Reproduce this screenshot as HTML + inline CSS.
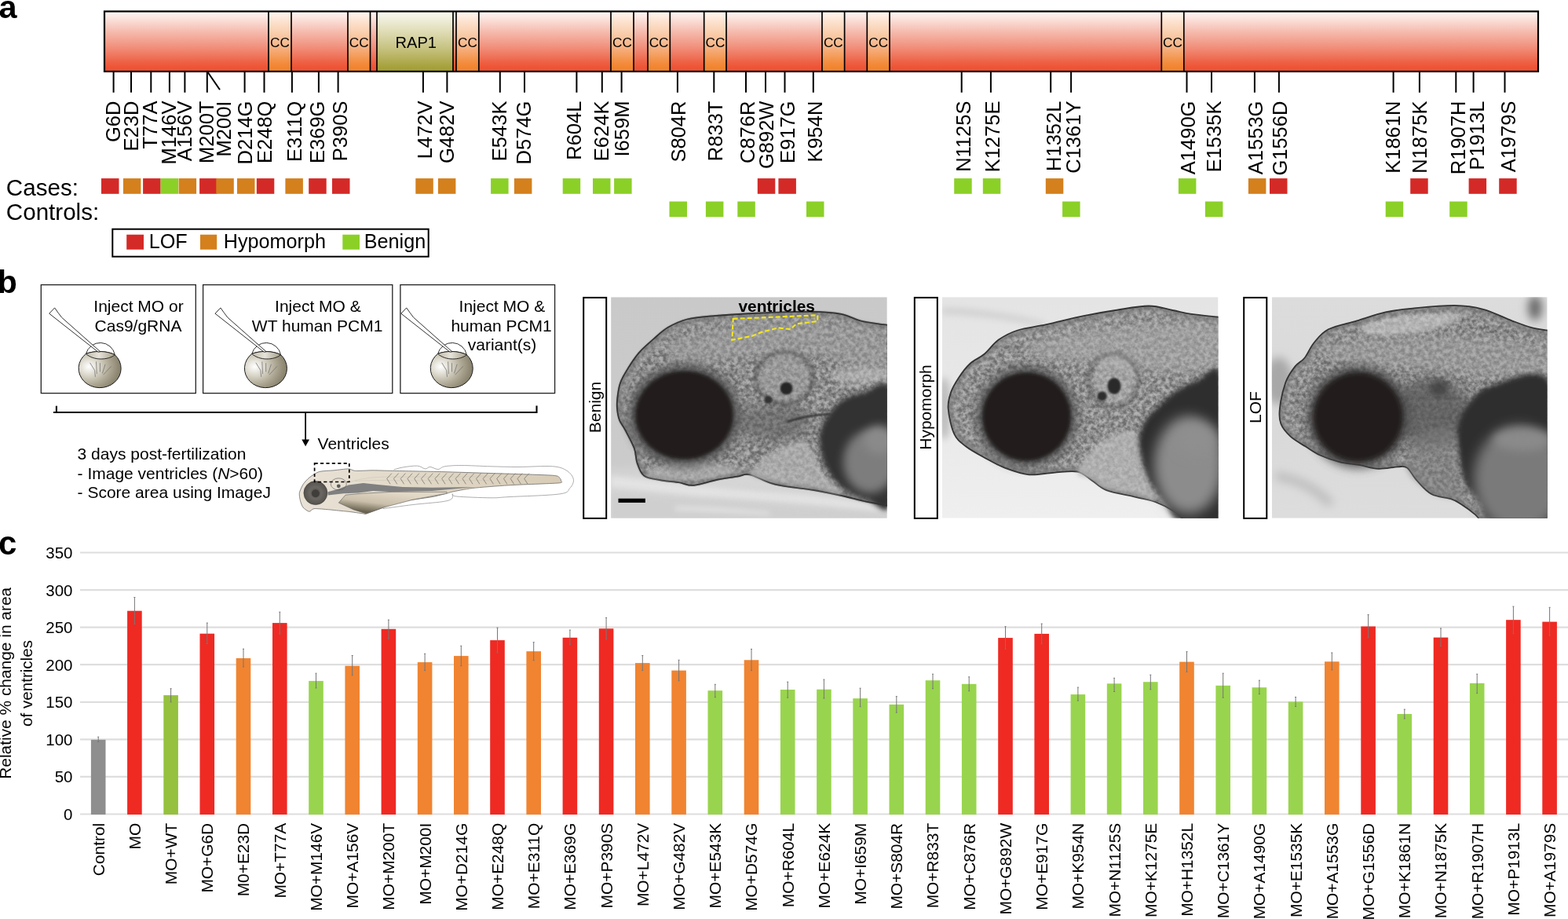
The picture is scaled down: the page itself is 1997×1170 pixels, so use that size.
<!DOCTYPE html>
<html><head><meta charset="utf-8"><title>PCM1 variants figure</title>
<style>html,body{margin:0;padding:0;background:#fff;width:1997px;height:1170px;overflow:hidden}svg{display:block}</style>
</head><body>
<svg width="1997" height="1170" viewBox="0 0 1997 1170" font-family='"Liberation Sans", Arial, Helvetica, sans-serif' fill="#000"><defs>
<linearGradient id="gR" x1="0" y1="0" x2="0" y2="1">
 <stop offset="0" stop-color="#fef8f6"/><stop offset="0.12" stop-color="#fbe3dd"/><stop offset="0.35" stop-color="#f5b9ab"/>
 <stop offset="0.6" stop-color="#f18f7b"/><stop offset="0.85" stop-color="#ee6043"/><stop offset="0.93" stop-color="#ee5435"/><stop offset="1" stop-color="#ee5232"/></linearGradient>
<linearGradient id="gC" x1="0" y1="0" x2="0" y2="1">
 <stop offset="0" stop-color="#fef9f4"/><stop offset="0.12" stop-color="#fde8d8"/><stop offset="0.35" stop-color="#f9cfae"/>
 <stop offset="0.6" stop-color="#f6b283"/><stop offset="0.85" stop-color="#f38d3f"/><stop offset="0.93" stop-color="#f28530"/><stop offset="1" stop-color="#f2832c"/></linearGradient>
<linearGradient id="gP" x1="0" y1="0" x2="0" y2="1">
 <stop offset="0" stop-color="#fbfbf4"/><stop offset="0.12" stop-color="#f0efdc"/><stop offset="0.35" stop-color="#dedbb3"/>
 <stop offset="0.6" stop-color="#c8c484"/><stop offset="0.85" stop-color="#aea94c"/><stop offset="0.93" stop-color="#a6a13a"/><stop offset="1" stop-color="#a39e33"/></linearGradient>

<radialGradient id="gEgg" cx="0.24" cy="0.42" r="0.85" fx="0.24" fy="0.42">
 <stop offset="0" stop-color="#ffffff"/><stop offset="0.3" stop-color="#d8d4c7"/><stop offset="0.6" stop-color="#aba591"/><stop offset="0.85" stop-color="#8a846f"/><stop offset="1" stop-color="#938d79"/></radialGradient>
<linearGradient id="gCap" x1="0" y1="0" x2="1" y2="0">
 <stop offset="0" stop-color="#c2bca9"/><stop offset="0.45" stop-color="#e6e3da"/><stop offset="1" stop-color="#a49d86"/></linearGradient>
<linearGradient id="gYolk" x1="0.15" y1="0.85" x2="0.6" y2="0.1">
 <stop offset="0" stop-color="#6a624f"/><stop offset="0.45" stop-color="#c9bfaa"/><stop offset="1" stop-color="#e2d8c6"/></linearGradient>
<linearGradient id="gBody" x1="0" y1="0" x2="1" y2="0">
 <stop offset="0" stop-color="#e9e2d6"/><stop offset="0.4" stop-color="#e2d9c9"/><stop offset="1" stop-color="#d8ccb6"/></linearGradient>
<radialGradient id="gEye" cx="0.5" cy="0.5" r="0.5">
 <stop offset="0" stop-color="#4a4844"/><stop offset="0.5" stop-color="#6b6863"/><stop offset="1" stop-color="#55524d"/></radialGradient>
<filter id="bl1" x="-20%" y="-20%" width="140%" height="140%"><feGaussianBlur stdDeviation="1"/></filter>
<filter id="bl2" x="-20%" y="-20%" width="140%" height="140%"><feGaussianBlur stdDeviation="2"/></filter>
<filter id="bl3" x="-20%" y="-20%" width="140%" height="140%"><feGaussianBlur stdDeviation="3"/></filter>
<filter id="bl4" x="-30%" y="-30%" width="160%" height="160%"><feGaussianBlur stdDeviation="4"/></filter>
<filter id="bl6" x="-30%" y="-30%" width="160%" height="160%"><feGaussianBlur stdDeviation="6"/></filter>
<filter id="bl05" x="-5%" y="-5%" width="110%" height="110%"><feGaussianBlur stdDeviation="0.6"/></filter>
<filter id="bl8" x="-40%" y="-40%" width="180%" height="180%"><feGaussianBlur stdDeviation="8"/></filter>
<filter id="tex" x="0" y="0" width="100%" height="100%" color-interpolation-filters="sRGB"><feTurbulence type="fractalNoise" baseFrequency="0.2" numOctaves="3" seed="7" result="n"/>
 <feColorMatrix in="n" type="matrix" values="2.2 0 0 0 -0.6  2.2 0 0 0 -0.6  2.2 0 0 0 -0.6  0 0 0 0 0.5" result="m"/><feComposite in="m" in2="SourceAlpha" operator="in"/></filter>
<linearGradient id="bgB" x1="0" y1="0" x2="0" y2="1"><stop offset="0" stop-color="#c9c9c9"/><stop offset="0.75" stop-color="#cbcbcb"/><stop offset="0.82" stop-color="#d6d6d6"/><stop offset="1" stop-color="#d2d2d2"/></linearGradient>
<linearGradient id="bgH" x1="0" y1="0" x2="0" y2="1"><stop offset="0" stop-color="#e4e4e4"/><stop offset="0.5" stop-color="#e8e8e8"/><stop offset="1" stop-color="#efefef"/></linearGradient>
<linearGradient id="bgL" x1="0" y1="0" x2="0" y2="1"><stop offset="0" stop-color="#dcdcdc"/><stop offset="0.6" stop-color="#d9d9d9"/><stop offset="1" stop-color="#dddddd"/></linearGradient>
<filter id="noise" x="0" y="0" width="100%" height="100%"><feTurbulence type="fractalNoise" baseFrequency="0.35" numOctaves="2" seed="3"/><feColorMatrix type="saturate" values="0"/></filter>
</defs><text x="-1.6" y="22.6" font-size="41.5" font-weight="bold">a</text>
<rect x="133" y="14.5" width="209.00" height="76.50" fill="url(#gR)"/>
<rect x="342" y="14.5" width="29.00" height="76.50" fill="url(#gC)"/>
<rect x="371" y="14.5" width="72.00" height="76.50" fill="url(#gR)"/>
<rect x="443" y="14.5" width="28.50" height="76.50" fill="url(#gC)"/>
<rect x="471.5" y="14.5" width="8.50" height="76.50" fill="url(#gR)"/>
<rect x="480" y="14.5" width="97.00" height="76.50" fill="url(#gP)"/>
<rect x="577" y="14.5" width="4.00" height="76.50" fill="url(#gR)"/>
<rect x="581" y="14.5" width="28.80" height="76.50" fill="url(#gC)"/>
<rect x="609.8" y="14.5" width="168.20" height="76.50" fill="url(#gR)"/>
<rect x="778" y="14.5" width="29.00" height="76.50" fill="url(#gC)"/>
<rect x="807" y="14.5" width="18.00" height="76.50" fill="url(#gR)"/>
<rect x="825" y="14.5" width="28.30" height="76.50" fill="url(#gC)"/>
<rect x="853.3" y="14.5" width="43.40" height="76.50" fill="url(#gR)"/>
<rect x="896.7" y="14.5" width="28.30" height="76.50" fill="url(#gC)"/>
<rect x="925" y="14.5" width="122.00" height="76.50" fill="url(#gR)"/>
<rect x="1047" y="14.5" width="28.60" height="76.50" fill="url(#gC)"/>
<rect x="1075.6" y="14.5" width="28.70" height="76.50" fill="url(#gR)"/>
<rect x="1104.3" y="14.5" width="28.70" height="76.50" fill="url(#gC)"/>
<rect x="1133" y="14.5" width="346.30" height="76.50" fill="url(#gR)"/>
<rect x="1479.3" y="14.5" width="28.50" height="76.50" fill="url(#gC)"/>
<rect x="1507.8" y="14.5" width="451.20" height="76.50" fill="url(#gR)"/>
<line x1="342" y1="14.5" x2="342" y2="91.0" stroke="#000" stroke-width="1.7"/>
<line x1="371" y1="14.5" x2="371" y2="91.0" stroke="#000" stroke-width="1.7"/>
<line x1="443" y1="14.5" x2="443" y2="91.0" stroke="#000" stroke-width="1.7"/>
<line x1="471.5" y1="14.5" x2="471.5" y2="91.0" stroke="#000" stroke-width="1.7"/>
<line x1="480" y1="14.5" x2="480" y2="91.0" stroke="#000" stroke-width="1.7"/>
<line x1="577" y1="14.5" x2="577" y2="91.0" stroke="#000" stroke-width="1.7"/>
<line x1="581" y1="14.5" x2="581" y2="91.0" stroke="#000" stroke-width="1.7"/>
<line x1="609.8" y1="14.5" x2="609.8" y2="91.0" stroke="#000" stroke-width="1.7"/>
<line x1="778" y1="14.5" x2="778" y2="91.0" stroke="#000" stroke-width="1.7"/>
<line x1="807" y1="14.5" x2="807" y2="91.0" stroke="#000" stroke-width="1.7"/>
<line x1="825" y1="14.5" x2="825" y2="91.0" stroke="#000" stroke-width="1.7"/>
<line x1="853.3" y1="14.5" x2="853.3" y2="91.0" stroke="#000" stroke-width="1.7"/>
<line x1="896.7" y1="14.5" x2="896.7" y2="91.0" stroke="#000" stroke-width="1.7"/>
<line x1="925" y1="14.5" x2="925" y2="91.0" stroke="#000" stroke-width="1.7"/>
<line x1="1047" y1="14.5" x2="1047" y2="91.0" stroke="#000" stroke-width="1.7"/>
<line x1="1075.6" y1="14.5" x2="1075.6" y2="91.0" stroke="#000" stroke-width="1.7"/>
<line x1="1104.3" y1="14.5" x2="1104.3" y2="91.0" stroke="#000" stroke-width="1.7"/>
<line x1="1133" y1="14.5" x2="1133" y2="91.0" stroke="#000" stroke-width="1.7"/>
<line x1="1479.3" y1="14.5" x2="1479.3" y2="91.0" stroke="#000" stroke-width="1.7"/>
<line x1="1507.8" y1="14.5" x2="1507.8" y2="91.0" stroke="#000" stroke-width="1.7"/>
<rect x="133" y="14.5" width="1826" height="76.50" fill="none" stroke="#000" stroke-width="2.2"/>
<text x="356.5" y="59.8" font-size="17.2" text-anchor="middle">CC</text>
<text x="457.2" y="59.8" font-size="17.2" text-anchor="middle">CC</text>
<text x="595.4" y="59.8" font-size="17.2" text-anchor="middle">CC</text>
<text x="792.5" y="59.8" font-size="17.2" text-anchor="middle">CC</text>
<text x="839.1" y="59.8" font-size="17.2" text-anchor="middle">CC</text>
<text x="910.9" y="59.8" font-size="17.2" text-anchor="middle">CC</text>
<text x="1061.3" y="59.8" font-size="17.2" text-anchor="middle">CC</text>
<text x="1118.7" y="59.8" font-size="17.2" text-anchor="middle">CC</text>
<text x="1493.5" y="59.8" font-size="17.2" text-anchor="middle">CC</text>
<text x="529.8" y="61.3" font-size="20.1" text-anchor="middle">RAP1</text>
<line x1="144.6" y1="91.0" x2="144.6" y2="117.8" stroke="#000" stroke-width="2"/>
<text transform="translate(152.6,128.6) rotate(-90)" font-size="25.5" text-anchor="end">G6D</text>
<rect x="129.0" y="227.1" width="22.5" height="19.7" fill="#d42a27"/>
<line x1="167" y1="91.0" x2="167" y2="117.8" stroke="#000" stroke-width="2"/>
<text transform="translate(176.4,128.6) rotate(-90)" font-size="25.5" text-anchor="end">E23D</text>
<rect x="156.9" y="227.1" width="22.5" height="19.7" fill="#d4801d"/>
<line x1="192.3" y1="91.0" x2="192.3" y2="117.8" stroke="#000" stroke-width="2"/>
<text transform="translate(200.3,128.6) rotate(-90)" font-size="25.5" text-anchor="end">T77A</text>
<rect x="182.1" y="227.1" width="22.5" height="19.7" fill="#d42a27"/>
<line x1="215.9" y1="91.0" x2="215.9" y2="117.8" stroke="#000" stroke-width="2"/>
<text transform="translate(223.6,128.6) rotate(-90)" font-size="25.5" text-anchor="end">M146V</text>
<rect x="204.6" y="227.1" width="22.5" height="19.7" fill="#8bd027"/>
<line x1="235.4" y1="91.0" x2="235.4" y2="117.8" stroke="#000" stroke-width="2"/>
<text transform="translate(243.7,128.6) rotate(-90)" font-size="25.5" text-anchor="end">A156V</text>
<rect x="227.6" y="227.1" width="22.5" height="19.7" fill="#d4801d"/>
<line x1="263.8" y1="91.0" x2="263.8" y2="117.8" stroke="#000" stroke-width="2"/>
<text transform="translate(272.3,128.6) rotate(-90)" font-size="25.5" text-anchor="end">M200T</text>
<rect x="254.1" y="227.1" width="22.5" height="19.7" fill="#d42a27"/>
<text transform="translate(294.4,128.6) rotate(-90)" font-size="25.5" text-anchor="end">M200I</text>
<rect x="275.3" y="227.1" width="22.5" height="19.7" fill="#d4801d"/>
<line x1="311.6" y1="91.0" x2="311.6" y2="117.8" stroke="#000" stroke-width="2"/>
<text transform="translate(321.1,128.6) rotate(-90)" font-size="25.5" text-anchor="end">D214G</text>
<rect x="302" y="227.1" width="22.5" height="19.7" fill="#d4801d"/>
<line x1="336.5" y1="91.0" x2="336.5" y2="117.8" stroke="#000" stroke-width="2"/>
<text transform="translate(346.4,128.6) rotate(-90)" font-size="25.5" text-anchor="end">E248Q</text>
<rect x="326.8" y="227.1" width="22.5" height="19.7" fill="#d42a27"/>
<line x1="371.9" y1="91.0" x2="371.9" y2="117.8" stroke="#000" stroke-width="2"/>
<text transform="translate(383.6,128.6) rotate(-90)" font-size="25.5" text-anchor="end">E311Q</text>
<rect x="363.4" y="227.1" width="22.5" height="19.7" fill="#d4801d"/>
<line x1="405.9" y1="91.0" x2="405.9" y2="117.8" stroke="#000" stroke-width="2"/>
<text transform="translate(412.6,128.6) rotate(-90)" font-size="25.5" text-anchor="end">E369G</text>
<rect x="393.2" y="227.1" width="22.5" height="19.7" fill="#d42a27"/>
<line x1="430.6" y1="91.0" x2="430.6" y2="117.8" stroke="#000" stroke-width="2"/>
<text transform="translate(441.5,128.6) rotate(-90)" font-size="25.5" text-anchor="end">P390S</text>
<rect x="423" y="227.1" width="22.5" height="19.7" fill="#d42a27"/>
<line x1="538.9" y1="91.0" x2="538.9" y2="117.8" stroke="#000" stroke-width="2"/>
<text transform="translate(549.6,128.6) rotate(-90)" font-size="25.5" text-anchor="end">L472V</text>
<rect x="529.3" y="227.1" width="22.5" height="19.7" fill="#d4801d"/>
<line x1="569.4" y1="91.0" x2="569.4" y2="117.8" stroke="#000" stroke-width="2"/>
<text transform="translate(578.1,128.6) rotate(-90)" font-size="25.5" text-anchor="end">G482V</text>
<rect x="557.9" y="227.1" width="22.5" height="19.7" fill="#d4801d"/>
<line x1="636.8" y1="91.0" x2="636.8" y2="117.8" stroke="#000" stroke-width="2"/>
<text transform="translate(645.0,128.6) rotate(-90)" font-size="25.5" text-anchor="end">E543K</text>
<rect x="625.1" y="227.1" width="22.5" height="19.7" fill="#8bd027"/>
<line x1="668" y1="91.0" x2="668" y2="117.8" stroke="#000" stroke-width="2"/>
<text transform="translate(676.4,128.6) rotate(-90)" font-size="25.5" text-anchor="end">D574G</text>
<rect x="654.9" y="227.1" width="22.5" height="19.7" fill="#d4801d"/>
<line x1="734.4" y1="91.0" x2="734.4" y2="117.8" stroke="#000" stroke-width="2"/>
<text transform="translate(739.8,128.6) rotate(-90)" font-size="25.5" text-anchor="end">R604L</text>
<rect x="716.7" y="227.1" width="22.5" height="19.7" fill="#8bd027"/>
<line x1="766.8" y1="91.0" x2="766.8" y2="117.8" stroke="#000" stroke-width="2"/>
<text transform="translate(774.7,128.6) rotate(-90)" font-size="25.5" text-anchor="end">E624K</text>
<rect x="755" y="227.1" width="22.5" height="19.7" fill="#8bd027"/>
<line x1="791.6" y1="91.0" x2="791.6" y2="117.8" stroke="#000" stroke-width="2"/>
<text transform="translate(801.1,128.6) rotate(-90)" font-size="25.5" text-anchor="end">I659M</text>
<rect x="782.1" y="227.1" width="22.5" height="19.7" fill="#8bd027"/>
<line x1="862.9" y1="91.0" x2="862.9" y2="117.8" stroke="#000" stroke-width="2"/>
<text transform="translate(873.3,128.6) rotate(-90)" font-size="25.5" text-anchor="end">S804R</text>
<rect x="852.5" y="256.5" width="22.5" height="19.7" fill="#8bd027"/>
<line x1="909.3" y1="91.0" x2="909.3" y2="117.8" stroke="#000" stroke-width="2"/>
<text transform="translate(919.6,128.6) rotate(-90)" font-size="25.5" text-anchor="end">R833T</text>
<rect x="898.9" y="256.5" width="22.5" height="19.7" fill="#8bd027"/>
<line x1="950" y1="91.0" x2="950" y2="117.8" stroke="#000" stroke-width="2"/>
<text transform="translate(960.5,128.6) rotate(-90)" font-size="25.5" text-anchor="end">C876R</text>
<rect x="939.3" y="256.5" width="22.5" height="19.7" fill="#8bd027"/>
<line x1="975" y1="91.0" x2="975" y2="117.8" stroke="#000" stroke-width="2"/>
<text transform="translate(985.2,128.6) rotate(-90)" font-size="25.5" text-anchor="end">G892W</text>
<rect x="964.8" y="227.1" width="22.5" height="19.7" fill="#d42a27"/>
<line x1="999.5" y1="91.0" x2="999.5" y2="117.8" stroke="#000" stroke-width="2"/>
<text transform="translate(1012.4,128.6) rotate(-90)" font-size="25.5" text-anchor="end">E917G</text>
<rect x="991.4" y="227.1" width="22.5" height="19.7" fill="#d42a27"/>
<line x1="1035.8" y1="91.0" x2="1035.8" y2="117.8" stroke="#000" stroke-width="2"/>
<text transform="translate(1047.0,128.6) rotate(-90)" font-size="25.5" text-anchor="end">K954N</text>
<rect x="1027" y="256.5" width="22.5" height="19.7" fill="#8bd027"/>
<line x1="1224.7" y1="91.0" x2="1224.7" y2="117.8" stroke="#000" stroke-width="2"/>
<text transform="translate(1236.2,128.6) rotate(-90)" font-size="25.5" text-anchor="end">N1125S</text>
<rect x="1215.2" y="227.1" width="22.5" height="19.7" fill="#8bd027"/>
<line x1="1261.9" y1="91.0" x2="1261.9" y2="117.8" stroke="#000" stroke-width="2"/>
<text transform="translate(1272.5,128.6) rotate(-90)" font-size="25.5" text-anchor="end">K1275E</text>
<rect x="1251.8" y="227.1" width="22.5" height="19.7" fill="#8bd027"/>
<line x1="1338.2" y1="91.0" x2="1338.2" y2="117.8" stroke="#000" stroke-width="2"/>
<text transform="translate(1350.8,128.6) rotate(-90)" font-size="25.5" text-anchor="end">H1352L</text>
<rect x="1331.8" y="227.1" width="22.5" height="19.7" fill="#d4801d"/>
<line x1="1364.1" y1="91.0" x2="1364.1" y2="117.8" stroke="#000" stroke-width="2"/>
<text transform="translate(1375.8,128.6) rotate(-90)" font-size="25.5" text-anchor="end">C1361Y</text>
<rect x="1353.1" y="256.5" width="22.5" height="19.7" fill="#8bd027"/>
<line x1="1511.5" y1="91.0" x2="1511.5" y2="117.8" stroke="#000" stroke-width="2"/>
<text transform="translate(1521.7,128.6) rotate(-90)" font-size="25.5" text-anchor="end">A1490G</text>
<rect x="1500.9" y="227.1" width="22.5" height="19.7" fill="#8bd027"/>
<line x1="1543" y1="91.0" x2="1543" y2="117.8" stroke="#000" stroke-width="2"/>
<text transform="translate(1554.7,128.6) rotate(-90)" font-size="25.5" text-anchor="end">E1535K</text>
<rect x="1534.9" y="256.5" width="22.5" height="19.7" fill="#8bd027"/>
<line x1="1597.9" y1="91.0" x2="1597.9" y2="117.8" stroke="#000" stroke-width="2"/>
<text transform="translate(1608.4,128.6) rotate(-90)" font-size="25.5" text-anchor="end">A1553G</text>
<rect x="1589.9" y="227.1" width="22.5" height="19.7" fill="#d4801d"/>
<line x1="1628.9" y1="91.0" x2="1628.9" y2="117.8" stroke="#000" stroke-width="2"/>
<text transform="translate(1639.0,128.6) rotate(-90)" font-size="25.5" text-anchor="end">G1556D</text>
<rect x="1617" y="227.1" width="22.5" height="19.7" fill="#d42a27"/>
<line x1="1774.6" y1="91.0" x2="1774.6" y2="117.8" stroke="#000" stroke-width="2"/>
<text transform="translate(1783.4,128.6) rotate(-90)" font-size="25.5" text-anchor="end">K1861N</text>
<rect x="1764.7" y="256.5" width="22.5" height="19.7" fill="#8bd027"/>
<line x1="1807.9" y1="91.0" x2="1807.9" y2="117.8" stroke="#000" stroke-width="2"/>
<text transform="translate(1816.9,128.6) rotate(-90)" font-size="25.5" text-anchor="end">N1875K</text>
<rect x="1796.2" y="227.1" width="22.5" height="19.7" fill="#d42a27"/>
<line x1="1854.3" y1="91.0" x2="1854.3" y2="117.8" stroke="#000" stroke-width="2"/>
<text transform="translate(1865.5,128.6) rotate(-90)" font-size="25.5" text-anchor="end">R1907H</text>
<rect x="1846.2" y="256.5" width="22.5" height="19.7" fill="#8bd027"/>
<line x1="1876.6" y1="91.0" x2="1876.6" y2="117.8" stroke="#000" stroke-width="2"/>
<text transform="translate(1889.8,128.6) rotate(-90)" font-size="25.5" text-anchor="end">P1913L</text>
<rect x="1870.6" y="227.1" width="22.5" height="19.7" fill="#d42a27"/>
<line x1="1916.5" y1="91.0" x2="1916.5" y2="117.8" stroke="#000" stroke-width="2"/>
<text transform="translate(1929.6,128.6) rotate(-90)" font-size="25.5" text-anchor="end">A1979S</text>
<rect x="1909.2" y="227.1" width="22.5" height="19.7" fill="#d42a27"/>
<line x1="264" y1="91.0" x2="280" y2="114.3" stroke="#000" stroke-width="2"/>
<text x="7.8" y="248.7" font-size="29.6">Cases:</text>
<text x="7.8" y="280.2" font-size="29.6">Controls:</text>
<rect x="143.3" y="291.7" width="402.4" height="35" fill="none" stroke="#000" stroke-width="2"/>
<rect x="161.2" y="298.7" width="21.8" height="19" fill="#d42a27"/>
<text x="189.7" y="315.9" font-size="25.2">LOF</text>
<rect x="255" y="298.7" width="21.2" height="19" fill="#d4801d"/>
<text x="284.8" y="315.9" font-size="25.2">Hypomorph</text>
<rect x="436.3" y="298.7" width="21.7" height="19" fill="#8bd027"/>
<text x="463.8" y="315.9" font-size="25.2">Benign</text>
<text x="-3.2" y="373" font-size="41" font-weight="bold">b</text>
<rect x="52.3" y="362.6" width="197.0" height="138" fill="#fff" stroke="#222" stroke-width="1.3"/>
<rect x="258.6" y="362.6" width="241.2" height="138" fill="#fff" stroke="#222" stroke-width="1.3"/>
<rect x="509.9" y="362.6" width="196.7" height="138" fill="#fff" stroke="#222" stroke-width="1.3"/>
<g transform="translate(127.2,468.0)"><path d="M-17.7,-17.6 A18.9,18.9 0 0 1 19.1,-16.3" fill="none" stroke="#1a1a1a" stroke-width="0.9"/><path d="M-17.7,-17.6 A27,24.6 0 1 0 19.1,-16.3 C9,-21.8 -8,-21.5 -17.7,-17.6 Z" fill="url(#gEgg)" stroke="#1a1a1a" stroke-width="1"/><path d="M-17.7,-17.6 C-8,-21.5 9,-21.8 19.1,-16.3 C11,-9.5 -8,-8.5 -17.7,-17.6 Z" fill="url(#gCap)" stroke="#1a1a1a" stroke-width="0.9"/><g stroke="#6e6e6e" stroke-width="0.75" fill="none"><path d="M-12.6,-6.2 L-6.6,3.6 L-5.8,11.8"/><path d="M-4.7,-7.6 L-3.9,8.1"/><path d="M0.2,-5.8 L0.2,5.4"/><path d="M6.9,-4.3 L3.2,7.3"/><path d="M14.5,-1.7 L4.3,9.2"/></g><path d="M-64.5,-68.8 L-57.6,-76.1 Q-53,-69.5 -48.6,-63.8 L0.6,-20.2 L-2.3,-19.9 Z" fill="#fff" stroke="#1a1a1a" stroke-width="0.9" stroke-linejoin="miter"/></g>
<g transform="translate(338.5,468.0)"><path d="M-17.7,-17.6 A18.9,18.9 0 0 1 19.1,-16.3" fill="none" stroke="#1a1a1a" stroke-width="0.9"/><path d="M-17.7,-17.6 A27,24.6 0 1 0 19.1,-16.3 C9,-21.8 -8,-21.5 -17.7,-17.6 Z" fill="url(#gEgg)" stroke="#1a1a1a" stroke-width="1"/><path d="M-17.7,-17.6 C-8,-21.5 9,-21.8 19.1,-16.3 C11,-9.5 -8,-8.5 -17.7,-17.6 Z" fill="url(#gCap)" stroke="#1a1a1a" stroke-width="0.9"/><g stroke="#6e6e6e" stroke-width="0.75" fill="none"><path d="M-12.6,-6.2 L-6.6,3.6 L-5.8,11.8"/><path d="M-4.7,-7.6 L-3.9,8.1"/><path d="M0.2,-5.8 L0.2,5.4"/><path d="M6.9,-4.3 L3.2,7.3"/><path d="M14.5,-1.7 L4.3,9.2"/></g><path d="M-64.5,-68.8 L-57.6,-76.1 Q-53,-69.5 -48.6,-63.8 L0.6,-20.2 L-2.3,-19.9 Z" fill="#fff" stroke="#1a1a1a" stroke-width="0.9" stroke-linejoin="miter"/></g>
<g transform="translate(575.3,468.0)"><path d="M-17.7,-17.6 A18.9,18.9 0 0 1 19.1,-16.3" fill="none" stroke="#1a1a1a" stroke-width="0.9"/><path d="M-17.7,-17.6 A27,24.6 0 1 0 19.1,-16.3 C9,-21.8 -8,-21.5 -17.7,-17.6 Z" fill="url(#gEgg)" stroke="#1a1a1a" stroke-width="1"/><path d="M-17.7,-17.6 C-8,-21.5 9,-21.8 19.1,-16.3 C11,-9.5 -8,-8.5 -17.7,-17.6 Z" fill="url(#gCap)" stroke="#1a1a1a" stroke-width="0.9"/><g stroke="#6e6e6e" stroke-width="0.75" fill="none"><path d="M-12.6,-6.2 L-6.6,3.6 L-5.8,11.8"/><path d="M-4.7,-7.6 L-3.9,8.1"/><path d="M0.2,-5.8 L0.2,5.4"/><path d="M6.9,-4.3 L3.2,7.3"/><path d="M14.5,-1.7 L4.3,9.2"/></g><path d="M-64.5,-68.8 L-57.6,-76.1 Q-53,-69.5 -48.6,-63.8 L0.6,-20.2 L-2.3,-19.9 Z" fill="#fff" stroke="#1a1a1a" stroke-width="0.9" stroke-linejoin="miter"/></g>
<text x="176.5" y="397.2" font-size="21.0" text-anchor="middle">Inject MO or</text>
<text x="176" y="422.1" font-size="21.0" text-anchor="middle">Cas9/gRNA</text>
<text x="404.9" y="396.6" font-size="21.0" text-anchor="middle">Inject MO &amp;</text>
<text x="404.1" y="421.6" font-size="21.0" text-anchor="middle">WT human PCM1</text>
<text x="639.4" y="396.6" font-size="21.0" text-anchor="middle">Inject MO &amp;</text>
<text x="638.6" y="421.6" font-size="21.0" text-anchor="middle">human PCM1</text>
<text x="639.5" y="446.2" font-size="21.0" text-anchor="middle">variant(s)</text>
<path d="M68,525 L683.5,525 L683.5,516.6 M71.9,525 L71.9,516.7" fill="none" stroke="#000" stroke-width="2.1"/>
<line x1="389.1" y1="525" x2="389.1" y2="561" stroke="#000" stroke-width="1.8"/>
<path d="M384.3,559.5 L394,559.5 L389.1,568.3 Z" fill="#000"/>
<text x="404.6" y="572.4" font-size="21.0">Ventricles</text>
<text x="98.6" y="584.9" font-size="21.0">3 days post-fertilization</text>
<text x="98.6" y="609.7" font-size="21.0">- Image ventricles (<tspan font-style="italic">N</tspan>&gt;60)</text>
<text x="98.6" y="634.3" font-size="21.0">- Score area using ImageJ</text>
<g><path d="M501.4,598.1 C503.3,597.6 507.7,595.8 512.7,595.0 C517.7,594.2 526.7,592.8 531.5,593.1 C536.3,593.4 538.8,596.7 541.5,596.9 C544.2,597.1 545.1,594.3 547.8,594.4 C550.5,594.5 554.7,597.6 557.8,597.5 C560.9,597.4 561.5,594.6 566.5,593.8 C571.5,593.0 578.0,592.5 587.8,592.5 C597.5,592.5 613.0,593.5 625.0,593.8 C637.0,594.1 646.9,594.5 660.0,594.5 C673.1,594.5 693.2,592.9 703.5,593.7 C713.8,594.5 717.5,596.5 722.0,599.3 C726.5,602.1 729.8,606.7 730.4,610.4 C731.0,614.1 728.7,618.4 725.8,621.5 C722.9,624.6 725.8,627.0 712.8,628.9 C699.8,630.8 662.6,631.8 648.0,632.6 C633.4,633.4 636.1,633.9 625.0,633.8 C613.9,633.7 589.7,632.8 581.6,632.0 C573.5,631.2 577.5,628.3 576.5,628.8 C575.5,629.3 577.6,633.4 575.3,635.1 C573.0,636.8 571.1,637.5 562.8,638.8 C554.4,640.0 537.7,641.1 525.2,642.6 C512.7,644.1 493.9,646.8 487.7,647.6" fill="#fff" stroke="#8a8a8a" stroke-width="0.7"/><path d="M393.8,651.3 C392.2,651.1 387.3,647.6 386.0,646.0 C384.7,644.4 383.0,639.7 382.5,637.6 C382.0,635.5 380.9,630.1 381.3,627.6 C381.7,625.1 384.8,618.6 386.3,616.3 C387.8,614.0 391.5,610.0 393.8,608.2 C396.1,606.4 402.6,601.7 406.3,600.6 C410.0,599.5 420.7,599.2 425.1,598.8 C429.5,598.4 440.7,596.8 443.9,596.9 C447.1,597.0 448.9,599.2 452.6,599.4 C456.3,599.6 469.6,598.8 475.2,598.8 C480.8,598.8 490.0,599.2 500.2,599.4 C510.4,599.6 548.2,600.2 562.8,600.6 C577.4,601.0 608.6,602.0 625.0,602.5 C641.4,603.0 693.3,604.5 703.5,605.2 C713.7,605.9 711.5,607.8 712.8,608.6 C714.1,609.4 714.8,611.6 714.6,612.3 C714.4,613.0 718.7,614.4 710.9,615.0 C703.1,615.6 660.8,617.0 648.0,617.8 C635.2,618.6 610.1,620.5 601.6,621.5 C593.1,622.5 579.1,625.5 575.3,626.3 C571.5,627.1 571.9,627.5 569.0,628.2 C566.1,628.9 555.4,631.7 550.3,632.6 C545.2,633.5 531.0,635.4 525.2,636.3 C519.4,637.2 504.6,638.9 500.2,640.1 C495.8,641.3 491.7,644.7 487.7,646.3 C483.7,647.9 468.9,653.3 466.0,654.2 C463.1,655.1 465.2,654.2 462.6,653.9 C460.0,653.6 447.6,651.7 443.9,651.3 C440.2,650.9 434.2,650.4 431.3,650.1 C428.4,649.8 422.5,649.1 418.8,648.8 C415.1,648.5 402.9,647.3 400.0,647.6 C397.1,647.9 395.4,651.5 393.8,651.3 Z" fill="url(#gBody)" stroke="#5a5a5a" stroke-width="0.7"/><path d="M431.3,640.1 L440.1,630.1 L462.6,628.2 L500.2,626.3 L569.0,626.3 L569.0,628.2 L525.2,636.3 L487.7,646.3 L466.4,653.9 L450.1,648.8 Z" fill="url(#gYolk)" stroke="#5a5a5a" stroke-width="0.6" stroke-linejoin="round"/><path d="M417.6,626.3 L431.3,622.6 L443.9,617.5 L462.6,615.0 L481.4,616.9 L512.7,620.0 L550.3,620.7 L605.3,620.0 L550.3,625.1 L500.2,626.3 L475.2,625.1 L456.4,627.6 L437.6,628.2 L417.6,630.6 Z" fill="#808080" stroke-linejoin="round"/><path d="M445,613.8 C460,609 475,607.5 490,607.2 L625,606.8 M452,612.5 C470,611 490,611.5 510,612 L625,611.5" fill="none" stroke="#cfc6b5" stroke-width="0.6"/><path d="M498.9,602.6 L492.7,609.4 L497.1,616.3 M507.6,602.6 L501.4,609.4 L505.8,616.3 M516.4,602.6 L510.2,609.4 L514.6,616.3 M525.2,602.6 L519.0,609.4 L523.4,616.3 M533.9,602.6 L527.7,609.4 L532.1,616.3 M542.7,602.6 L536.5,609.4 L540.9,616.3 M551.4,602.6 L545.2,609.4 L549.6,616.3 M560.2,602.6 L554.0,609.4 L558.4,616.3 M568.9,602.6 L562.7,609.4 L567.1,616.3 M577.7,602.6 L571.5,609.4 L575.9,616.3 M586.4,602.6 L580.2,609.4 L584.6,616.3 M595.2,602.6 L589.0,609.4 L593.4,616.3 M603.9,602.6 L597.7,609.4 L602.1,616.3 M612.7,602.6 L606.5,609.4 L610.9,616.3 M621.4,602.6 L615.2,609.4 L619.6,616.3 M630.2,602.6 L624.0,609.4 L628.4,616.3 M638.9,602.6 L632.7,609.4 L637.1,616.3 M647.7,602.6 L641.5,609.4 L645.9,616.3 M656.4,602.6 L650.2,609.4 L654.6,616.3 M665.2,602.6 L659.0,609.4 L663.4,616.3 M673.9,602.6 L667.7,609.4 L672.1,616.3" fill="none" stroke="#6a6a6a" stroke-width="0.7"/><circle cx="401.9" cy="627.6" r="15" fill="url(#gEye)" stroke="#3a3a3a" stroke-width="0.6"/><circle cx="401.9" cy="628.2" r="5" fill="#403e3a"/><ellipse cx="431.3" cy="616.3" rx="10" ry="7.5" fill="none" stroke="#555" stroke-width="0.6"/><circle cx="431.3" cy="618.8" r="2.4" fill="#5a5a5a"/><rect x="400.6" y="589.9" width="44.2" height="23.6" fill="none" stroke="#000" stroke-width="1.7" stroke-dasharray="4.2,3.2"/></g>
<rect x="743.2" y="378.9" width="29.0" height="281" fill="#fff" stroke="#000" stroke-width="2"/>
<text transform="translate(764.5,518.5) rotate(-90)" font-size="21" text-anchor="middle">Benign</text>
<clipPath id="cpB"><rect x="778.1" y="378.2" width="351.7" height="281.5"/></clipPath><g clip-path="url(#cpB)"><rect x="778.1" y="378.2" width="351.7" height="281.5" fill="url(#bgB)"/><g filter="url(#bl3)" opacity="0.9"><path d="M778,606 C840,612 900,622 1000,628 C1060,632 1100,640 1131,646 L1131,652 C1080,646 1000,638 900,632 C850,628 800,622 778,620 Z" fill="#e4e4e4"/><path d="M778,628 C850,632 950,640 1131,655 L1131,660 L778,660 Z" fill="#cfcfcf"/><path d="M860,645 C900,644 940,648 980,652 L980,656 C940,654 900,651 860,650 Z" fill="#e2e2e2"/></g><path d="M1131.0,413.5 C1130.0,413.4 1130.7,414.1 1124.8,413.2 C1118.9,412.3 1104.5,410.5 1095.6,408.3 C1086.7,406.1 1081.5,401.7 1071.4,399.8 C1061.3,397.9 1051.9,397.0 1035.0,396.8 C1018.1,396.6 991.4,397.6 970.0,398.5 C948.6,399.4 922.5,401.0 906.7,402.3 C890.9,403.6 884.4,404.1 875.1,406.5 C865.8,408.9 857.9,412.7 850.8,416.8 C843.7,420.9 838.7,426.1 832.6,431.4 C826.5,436.7 819.9,442.1 814.4,448.4 C808.9,454.7 803.8,462.5 799.8,469.0 C795.8,475.5 792.3,481.1 790.1,487.2 C787.9,493.3 787.2,499.9 786.5,505.4 C785.8,510.9 785.6,515.1 786.0,520.0 C786.4,524.9 787.2,530.3 789.0,535.0 C790.8,539.7 793.5,542.0 796.6,548.0 C799.7,554.0 805.3,563.9 807.8,570.8 C810.3,577.7 809.5,583.6 811.5,589.4 C813.5,595.2 815.4,601.9 820.1,605.5 C824.9,609.1 832.5,609.5 840.0,611.0 C847.5,612.5 857.6,613.1 864.8,614.2 C872.0,615.4 875.1,618.5 883.4,617.9 C891.7,617.3 905.1,612.4 914.4,610.5 C923.7,608.6 932.4,607.7 939.2,606.7 C946.0,605.7 947.0,602.6 955.0,604.3 C963.0,605.9 973.4,613.3 987.0,616.6 C1000.6,619.9 1022.3,621.5 1036.8,624.0 C1051.3,626.5 1063.7,629.2 1074.0,631.5 C1084.3,633.8 1089.3,635.6 1098.8,637.7 C1108.3,639.8 1125.6,643.0 1131.0,644.0 L1140,646 L1140,410 Z" fill="#303030" filter="url(#bl1)" transform="translate(0,0)"/><clipPath id="hc1"><path d="M1131.0,413.5 C1130.0,413.4 1130.7,414.1 1124.8,413.2 C1118.9,412.3 1104.5,410.5 1095.6,408.3 C1086.7,406.1 1081.5,401.7 1071.4,399.8 C1061.3,397.9 1051.9,397.0 1035.0,396.8 C1018.1,396.6 991.4,397.6 970.0,398.5 C948.6,399.4 922.5,401.0 906.7,402.3 C890.9,403.6 884.4,404.1 875.1,406.5 C865.8,408.9 857.9,412.7 850.8,416.8 C843.7,420.9 838.7,426.1 832.6,431.4 C826.5,436.7 819.9,442.1 814.4,448.4 C808.9,454.7 803.8,462.5 799.8,469.0 C795.8,475.5 792.3,481.1 790.1,487.2 C787.9,493.3 787.2,499.9 786.5,505.4 C785.8,510.9 785.6,515.1 786.0,520.0 C786.4,524.9 787.2,530.3 789.0,535.0 C790.8,539.7 793.5,542.0 796.6,548.0 C799.7,554.0 805.3,563.9 807.8,570.8 C810.3,577.7 809.5,583.6 811.5,589.4 C813.5,595.2 815.4,601.9 820.1,605.5 C824.9,609.1 832.5,609.5 840.0,611.0 C847.5,612.5 857.6,613.1 864.8,614.2 C872.0,615.4 875.1,618.5 883.4,617.9 C891.7,617.3 905.1,612.4 914.4,610.5 C923.7,608.6 932.4,607.7 939.2,606.7 C946.0,605.7 947.0,602.6 955.0,604.3 C963.0,605.9 973.4,613.3 987.0,616.6 C1000.6,619.9 1022.3,621.5 1036.8,624.0 C1051.3,626.5 1063.7,629.2 1074.0,631.5 C1084.3,633.8 1089.3,635.6 1098.8,637.7 C1108.3,639.8 1125.6,643.0 1131.0,644.0 L1140,646 L1140,410 Z"/></clipPath><path d="M1131.0,413.5 C1130.0,413.4 1130.7,414.1 1124.8,413.2 C1118.9,412.3 1104.5,410.5 1095.6,408.3 C1086.7,406.1 1081.5,401.7 1071.4,399.8 C1061.3,397.9 1051.9,397.0 1035.0,396.8 C1018.1,396.6 991.4,397.6 970.0,398.5 C948.6,399.4 922.5,401.0 906.7,402.3 C890.9,403.6 884.4,404.1 875.1,406.5 C865.8,408.9 857.9,412.7 850.8,416.8 C843.7,420.9 838.7,426.1 832.6,431.4 C826.5,436.7 819.9,442.1 814.4,448.4 C808.9,454.7 803.8,462.5 799.8,469.0 C795.8,475.5 792.3,481.1 790.1,487.2 C787.9,493.3 787.2,499.9 786.5,505.4 C785.8,510.9 785.6,515.1 786.0,520.0 C786.4,524.9 787.2,530.3 789.0,535.0 C790.8,539.7 793.5,542.0 796.6,548.0 C799.7,554.0 805.3,563.9 807.8,570.8 C810.3,577.7 809.5,583.6 811.5,589.4 C813.5,595.2 815.4,601.9 820.1,605.5 C824.9,609.1 832.5,609.5 840.0,611.0 C847.5,612.5 857.6,613.1 864.8,614.2 C872.0,615.4 875.1,618.5 883.4,617.9 C891.7,617.3 905.1,612.4 914.4,610.5 C923.7,608.6 932.4,607.7 939.2,606.7 C946.0,605.7 947.0,602.6 955.0,604.3 C963.0,605.9 973.4,613.3 987.0,616.6 C1000.6,619.9 1022.3,621.5 1036.8,624.0 C1051.3,626.5 1063.7,629.2 1074.0,631.5 C1084.3,633.8 1089.3,635.6 1098.8,637.7 C1108.3,639.8 1125.6,643.0 1131.0,644.0 L1140,646 L1140,410 Z" fill="#929292"/><path d="M1131.0,413.5 C1130.0,413.4 1130.7,414.1 1124.8,413.2 C1118.9,412.3 1104.5,410.5 1095.6,408.3 C1086.7,406.1 1081.5,401.7 1071.4,399.8 C1061.3,397.9 1051.9,397.0 1035.0,396.8 C1018.1,396.6 991.4,397.6 970.0,398.5 C948.6,399.4 922.5,401.0 906.7,402.3 C890.9,403.6 884.4,404.1 875.1,406.5 C865.8,408.9 857.9,412.7 850.8,416.8 C843.7,420.9 838.7,426.1 832.6,431.4 C826.5,436.7 819.9,442.1 814.4,448.4 C808.9,454.7 803.8,462.5 799.8,469.0 C795.8,475.5 792.3,481.1 790.1,487.2 C787.9,493.3 787.2,499.9 786.5,505.4 C785.8,510.9 785.6,515.1 786.0,520.0 C786.4,524.9 787.2,530.3 789.0,535.0 C790.8,539.7 793.5,542.0 796.6,548.0 C799.7,554.0 805.3,563.9 807.8,570.8 C810.3,577.7 809.5,583.6 811.5,589.4 C813.5,595.2 815.4,601.9 820.1,605.5 C824.9,609.1 832.5,609.5 840.0,611.0 C847.5,612.5 857.6,613.1 864.8,614.2 C872.0,615.4 875.1,618.5 883.4,617.9 C891.7,617.3 905.1,612.4 914.4,610.5 C923.7,608.6 932.4,607.7 939.2,606.7 C946.0,605.7 947.0,602.6 955.0,604.3 C963.0,605.9 973.4,613.3 987.0,616.6 C1000.6,619.9 1022.3,621.5 1036.8,624.0 C1051.3,626.5 1063.7,629.2 1074.0,631.5 C1084.3,633.8 1089.3,635.6 1098.8,637.7 C1108.3,639.8 1125.6,643.0 1131.0,644.0 L1140,646 L1140,410 Z" fill="#000" filter="url(#tex)" opacity="0.55"/><g clip-path="url(#hc1)"><path d="M1131.0,413.5 C1130.0,413.4 1130.7,414.1 1124.8,413.2 C1118.9,412.3 1104.5,410.5 1095.6,408.3 C1086.7,406.1 1081.5,401.7 1071.4,399.8 C1061.3,397.9 1051.9,397.0 1035.0,396.8 C1018.1,396.6 991.4,397.6 970.0,398.5 C948.6,399.4 922.5,401.0 906.7,402.3 C890.9,403.6 884.4,404.1 875.1,406.5 C865.8,408.9 857.9,412.7 850.8,416.8 C843.7,420.9 838.7,426.1 832.6,431.4 C826.5,436.7 819.9,442.1 814.4,448.4 C808.9,454.7 803.8,462.5 799.8,469.0 C795.8,475.5 792.3,481.1 790.1,487.2 C787.9,493.3 787.2,499.9 786.5,505.4 C785.8,510.9 785.6,515.1 786.0,520.0 C786.4,524.9 787.2,530.3 789.0,535.0 C790.8,539.7 793.5,542.0 796.6,548.0 C799.7,554.0 805.3,563.9 807.8,570.8 C810.3,577.7 809.5,583.6 811.5,589.4 C813.5,595.2 815.4,601.9 820.1,605.5 C824.9,609.1 832.5,609.5 840.0,611.0 C847.5,612.5 857.6,613.1 864.8,614.2 C872.0,615.4 875.1,618.5 883.4,617.9 C891.7,617.3 905.1,612.4 914.4,610.5 C923.7,608.6 932.4,607.7 939.2,606.7 C946.0,605.7 947.0,602.6 955.0,604.3 C963.0,605.9 973.4,613.3 987.0,616.6 C1000.6,619.9 1022.3,621.5 1036.8,624.0 C1051.3,626.5 1063.7,629.2 1074.0,631.5 C1084.3,633.8 1089.3,635.6 1098.8,637.7 C1108.3,639.8 1125.6,643.0 1131.0,644.0 L1140,646 L1140,410 Z" fill="none" stroke="#4a4a4a" stroke-width="12" opacity="0.45" filter="url(#bl2)"/><path d="M1131.0,413.5 C1130.0,413.4 1130.7,414.1 1124.8,413.2 C1118.9,412.3 1104.5,410.5 1095.6,408.3 C1086.7,406.1 1081.5,401.7 1071.4,399.8 C1061.3,397.9 1051.9,397.0 1035.0,396.8 C1018.1,396.6 991.4,397.6 970.0,398.5 C948.6,399.4 922.5,401.0 906.7,402.3 C890.9,403.6 884.4,404.1 875.1,406.5 C865.8,408.9 857.9,412.7 850.8,416.8 C843.7,420.9 838.7,426.1 832.6,431.4 C826.5,436.7 819.9,442.1 814.4,448.4 C808.9,454.7 803.8,462.5 799.8,469.0 C795.8,475.5 792.3,481.1 790.1,487.2 C787.9,493.3 787.2,499.9 786.5,505.4 C785.8,510.9 785.6,515.1 786.0,520.0 C786.4,524.9 787.2,530.3 789.0,535.0 C790.8,539.7 793.5,542.0 796.6,548.0 C799.7,554.0 805.3,563.9 807.8,570.8 C810.3,577.7 809.5,583.6 811.5,589.4 C813.5,595.2 815.4,601.9 820.1,605.5 C824.9,609.1 832.5,609.5 840.0,611.0 C847.5,612.5 857.6,613.1 864.8,614.2 C872.0,615.4 875.1,618.5 883.4,617.9 C891.7,617.3 905.1,612.4 914.4,610.5 C923.7,608.6 932.4,607.7 939.2,606.7 C946.0,605.7 947.0,602.6 955.0,604.3 C963.0,605.9 973.4,613.3 987.0,616.6 C1000.6,619.9 1022.3,621.5 1036.8,624.0 C1051.3,626.5 1063.7,629.2 1074.0,631.5 C1084.3,633.8 1089.3,635.6 1098.8,637.7 C1108.3,639.8 1125.6,643.0 1131.0,644.0 L1140,646 L1140,410 Z" fill="none" stroke="#d0d0d0" stroke-width="22" opacity="0.18" filter="url(#bl3)"/></g><path d="M1131.0,413.5 C1130.0,413.4 1130.7,414.1 1124.8,413.2 C1118.9,412.3 1104.5,410.5 1095.6,408.3 C1086.7,406.1 1081.5,401.7 1071.4,399.8 C1061.3,397.9 1051.9,397.0 1035.0,396.8 C1018.1,396.6 991.4,397.6 970.0,398.5 C948.6,399.4 922.5,401.0 906.7,402.3 C890.9,403.6 884.4,404.1 875.1,406.5 C865.8,408.9 857.9,412.7 850.8,416.8 C843.7,420.9 838.7,426.1 832.6,431.4 C826.5,436.7 819.9,442.1 814.4,448.4 C808.9,454.7 803.8,462.5 799.8,469.0 C795.8,475.5 792.3,481.1 790.1,487.2 C787.9,493.3 787.2,499.9 786.5,505.4 C785.8,510.9 785.6,515.1 786.0,520.0 C786.4,524.9 787.2,530.3 789.0,535.0 C790.8,539.7 793.5,542.0 796.6,548.0 C799.7,554.0 805.3,563.9 807.8,570.8 C810.3,577.7 809.5,583.6 811.5,589.4 C813.5,595.2 815.4,601.9 820.1,605.5 C824.9,609.1 832.5,609.5 840.0,611.0 C847.5,612.5 857.6,613.1 864.8,614.2 C872.0,615.4 875.1,618.5 883.4,617.9 C891.7,617.3 905.1,612.4 914.4,610.5 C923.7,608.6 932.4,607.7 939.2,606.7 C946.0,605.7 947.0,602.6 955.0,604.3 C963.0,605.9 973.4,613.3 987.0,616.6 C1000.6,619.9 1022.3,621.5 1036.8,624.0 C1051.3,626.5 1063.7,629.2 1074.0,631.5 C1084.3,633.8 1089.3,635.6 1098.8,637.7 C1108.3,639.8 1125.6,643.0 1131.0,644.0 L1140,646 L1140,410 Z" fill="none" stroke="#333" stroke-width="1.8" filter="url(#bl05)"/><path d="M845,440 C880,418 960,410 1040,410 C1090,412 1120,420 1131,425 L1131,470 C1090,468 1060,455 1030,452 C980,450 940,455 900,462 C870,465 850,460 845,440 Z" fill="#a8a8a8" opacity="0.45" filter="url(#bl6)"/><path d="M955.0,604.0 C954.5,597.5 973.3,582.0 985.0,575.0 C996.7,568.0 1015.0,558.2 1025.0,562.0 C1035.0,565.8 1037.2,587.0 1045.0,598.0 C1052.8,609.0 1073.5,624.0 1072.0,628.0 C1070.5,632.0 1050.0,624.3 1036.0,622.0 C1022.0,619.7 1001.5,617.0 988.0,614.0 C974.5,611.0 955.5,610.5 955.0,604.0 Z" fill="#bdbdbd" opacity="0.6" filter="url(#bl2)"/><path d="M822.0,604.0 C823.7,600.7 837.0,592.7 850.0,590.0 C863.0,587.3 885.0,586.7 900.0,588.0 C915.0,589.3 938.3,594.7 940.0,598.0 C941.7,601.3 921.7,605.7 910.0,608.0 C898.3,610.3 881.7,611.7 870.0,612.0 C858.3,612.3 848.0,611.3 840.0,610.0 C832.0,608.7 820.3,607.3 822.0,604.0 Z" fill="#b8b8b8" opacity="0.6" filter="url(#bl2)"/><ellipse cx="985" cy="537" rx="48" ry="24" fill="#5e5e5e" opacity="0.55" filter="url(#bl8)"/><ellipse cx="1098" cy="478" rx="40" ry="11" fill="#c4c4c4" opacity="0.55" filter="url(#bl4)"/><path d="M1003,537 C1020,531 1040,528 1058,527" fill="none" stroke="#2e2e2e" stroke-width="2.5" filter="url(#bl1)"/><path d="M955,585 C975,565 1000,548 1020,540" fill="none" stroke="#555" stroke-width="2" opacity="0.6" filter="url(#bl1)"/><path d="M1058.0,524.0 C1053.2,530.2 1048.3,538.2 1046.0,545.0 C1043.7,551.8 1043.3,557.5 1044.0,565.0 C1044.7,572.5 1047.0,582.5 1050.0,590.0 C1053.0,597.5 1057.0,604.0 1062.0,610.0 C1067.0,616.0 1072.8,621.7 1080.0,626.0 C1087.2,630.3 1095.8,633.7 1105.0,636.0 C1114.2,638.3 1130.0,663.0 1135.0,640.0 C1140.0,617.0 1140.8,521.3 1135.0,498.0 C1129.2,474.7 1110.0,498.3 1100.0,500.0 C1090.0,501.7 1082.0,504.0 1075.0,508.0 C1068.0,512.0 1062.8,517.8 1058.0,524.0 Z" fill="#333" filter="url(#bl3)"/><ellipse cx="1108" cy="588" rx="34" ry="40" fill="#7d7d7d" filter="url(#bl6)"/><ellipse cx="1120" cy="560" rx="20" ry="18" fill="#8a8a8a" filter="url(#bl6)"/><ellipse cx="871.5" cy="529" rx="72" ry="66" fill="#4d4d4d" opacity="0.8" filter="url(#bl6)"/><ellipse cx="871.5" cy="528.5" rx="62.5" ry="56.5" fill="#221e1f" filter="url(#bl2)"/><ellipse cx="999" cy="481" rx="33" ry="30" fill="#a5a5a5" opacity="0.5" filter="url(#bl3)"/><ellipse cx="999" cy="481" rx="37" ry="33" fill="none" stroke="#4a4a4a" stroke-width="4" opacity="0.65" filter="url(#bl2)"/><circle cx="1001.5" cy="494.5" r="8" fill="#262626" filter="url(#bl1)"/><circle cx="978.5" cy="509" r="5" fill="#333" filter="url(#bl1)"/><path d="M933.7,405.9 L1041.3,401.3 L1041.3,409 L1014.4,412.3 L1006.7,419.2 L991.3,417.4 L970.8,422.6 L958,427.7 L932.4,432.8 Z" fill="none" stroke="#f2e520" stroke-width="2.2" stroke-dasharray="6,3"/><text x="989.2" y="396.6" font-size="20.9" font-weight="bold" text-anchor="middle">ventricles</text><rect x="787.5" y="634.7" width="34.4" height="5.2" fill="#000"/></g>
<rect x="1164.8" y="378.9" width="29.0" height="281" fill="#fff" stroke="#000" stroke-width="2"/>
<text transform="translate(1186.1,518.5) rotate(-90)" font-size="21" text-anchor="middle">Hypomorph</text>
<clipPath id="cpH"><rect x="1199.7" y="378.2" width="351.8" height="281.5"/></clipPath><g clip-path="url(#cpH)"><rect x="1199.7" y="378.2" width="351.8" height="281.5" fill="url(#bgH)"/><g filter="url(#bl4)"><path d="M1200,392 C1240,392 1290,400 1330,410 L1330,416 C1290,408 1240,400 1200,400 Z" fill="#cfcfcf"/><ellipse cx="1203" cy="520" rx="8" ry="40" fill="#bdbdbd"/></g><clipPath id="hc2"><path d="M1552.0,403.6 C1551.7,403.6 1556.1,404.1 1550.4,403.5 C1544.7,402.9 1527.1,401.2 1517.6,399.8 C1508.1,398.4 1502.5,396.7 1493.4,395.0 C1484.3,393.3 1475.2,389.5 1463.0,389.5 C1450.8,389.5 1434.5,392.9 1420.5,395.0 C1406.5,397.1 1393.7,399.3 1379.0,402.3 C1364.3,405.3 1346.3,410.2 1332.5,413.2 C1318.7,416.2 1306.2,417.3 1296.1,420.5 C1286.0,423.7 1278.9,427.6 1271.8,432.6 C1264.7,437.7 1259.7,445.7 1253.6,450.8 C1247.5,455.9 1240.9,457.9 1235.4,463.0 C1229.9,468.1 1224.8,475.1 1220.8,481.2 C1216.8,487.3 1213.3,492.9 1211.1,499.4 C1208.9,505.9 1206.9,511.2 1207.6,520.0 C1208.3,528.8 1211.4,544.2 1215.1,552.2 C1218.8,560.2 1223.4,563.1 1230.0,568.3 C1236.6,573.5 1246.5,578.7 1254.8,583.2 C1263.1,587.8 1270.3,592.1 1279.6,595.6 C1288.9,599.1 1300.3,603.3 1310.6,604.3 C1320.9,605.3 1331.4,602.4 1341.6,601.8 C1351.8,601.2 1363.8,598.9 1372.0,600.5 C1380.2,602.1 1384.4,607.8 1390.6,611.7 C1396.8,615.6 1399.9,620.6 1409.2,624.1 C1418.5,627.6 1436.1,630.3 1446.4,632.8 C1456.7,635.3 1462.9,635.9 1471.2,639.0 C1479.5,642.1 1489.8,647.4 1496.0,651.4 C1502.2,655.4 1506.3,661.1 1508.4,663.0 L1560,665 L1560,400 Z"/></clipPath><path d="M1552.0,403.6 C1551.7,403.6 1556.1,404.1 1550.4,403.5 C1544.7,402.9 1527.1,401.2 1517.6,399.8 C1508.1,398.4 1502.5,396.7 1493.4,395.0 C1484.3,393.3 1475.2,389.5 1463.0,389.5 C1450.8,389.5 1434.5,392.9 1420.5,395.0 C1406.5,397.1 1393.7,399.3 1379.0,402.3 C1364.3,405.3 1346.3,410.2 1332.5,413.2 C1318.7,416.2 1306.2,417.3 1296.1,420.5 C1286.0,423.7 1278.9,427.6 1271.8,432.6 C1264.7,437.7 1259.7,445.7 1253.6,450.8 C1247.5,455.9 1240.9,457.9 1235.4,463.0 C1229.9,468.1 1224.8,475.1 1220.8,481.2 C1216.8,487.3 1213.3,492.9 1211.1,499.4 C1208.9,505.9 1206.9,511.2 1207.6,520.0 C1208.3,528.8 1211.4,544.2 1215.1,552.2 C1218.8,560.2 1223.4,563.1 1230.0,568.3 C1236.6,573.5 1246.5,578.7 1254.8,583.2 C1263.1,587.8 1270.3,592.1 1279.6,595.6 C1288.9,599.1 1300.3,603.3 1310.6,604.3 C1320.9,605.3 1331.4,602.4 1341.6,601.8 C1351.8,601.2 1363.8,598.9 1372.0,600.5 C1380.2,602.1 1384.4,607.8 1390.6,611.7 C1396.8,615.6 1399.9,620.6 1409.2,624.1 C1418.5,627.6 1436.1,630.3 1446.4,632.8 C1456.7,635.3 1462.9,635.9 1471.2,639.0 C1479.5,642.1 1489.8,647.4 1496.0,651.4 C1502.2,655.4 1506.3,661.1 1508.4,663.0 L1560,665 L1560,400 Z" fill="#969696"/><path d="M1552.0,403.6 C1551.7,403.6 1556.1,404.1 1550.4,403.5 C1544.7,402.9 1527.1,401.2 1517.6,399.8 C1508.1,398.4 1502.5,396.7 1493.4,395.0 C1484.3,393.3 1475.2,389.5 1463.0,389.5 C1450.8,389.5 1434.5,392.9 1420.5,395.0 C1406.5,397.1 1393.7,399.3 1379.0,402.3 C1364.3,405.3 1346.3,410.2 1332.5,413.2 C1318.7,416.2 1306.2,417.3 1296.1,420.5 C1286.0,423.7 1278.9,427.6 1271.8,432.6 C1264.7,437.7 1259.7,445.7 1253.6,450.8 C1247.5,455.9 1240.9,457.9 1235.4,463.0 C1229.9,468.1 1224.8,475.1 1220.8,481.2 C1216.8,487.3 1213.3,492.9 1211.1,499.4 C1208.9,505.9 1206.9,511.2 1207.6,520.0 C1208.3,528.8 1211.4,544.2 1215.1,552.2 C1218.8,560.2 1223.4,563.1 1230.0,568.3 C1236.6,573.5 1246.5,578.7 1254.8,583.2 C1263.1,587.8 1270.3,592.1 1279.6,595.6 C1288.9,599.1 1300.3,603.3 1310.6,604.3 C1320.9,605.3 1331.4,602.4 1341.6,601.8 C1351.8,601.2 1363.8,598.9 1372.0,600.5 C1380.2,602.1 1384.4,607.8 1390.6,611.7 C1396.8,615.6 1399.9,620.6 1409.2,624.1 C1418.5,627.6 1436.1,630.3 1446.4,632.8 C1456.7,635.3 1462.9,635.9 1471.2,639.0 C1479.5,642.1 1489.8,647.4 1496.0,651.4 C1502.2,655.4 1506.3,661.1 1508.4,663.0 L1560,665 L1560,400 Z" fill="#000" filter="url(#tex)" opacity="0.55"/><g clip-path="url(#hc2)"><path d="M1552.0,403.6 C1551.7,403.6 1556.1,404.1 1550.4,403.5 C1544.7,402.9 1527.1,401.2 1517.6,399.8 C1508.1,398.4 1502.5,396.7 1493.4,395.0 C1484.3,393.3 1475.2,389.5 1463.0,389.5 C1450.8,389.5 1434.5,392.9 1420.5,395.0 C1406.5,397.1 1393.7,399.3 1379.0,402.3 C1364.3,405.3 1346.3,410.2 1332.5,413.2 C1318.7,416.2 1306.2,417.3 1296.1,420.5 C1286.0,423.7 1278.9,427.6 1271.8,432.6 C1264.7,437.7 1259.7,445.7 1253.6,450.8 C1247.5,455.9 1240.9,457.9 1235.4,463.0 C1229.9,468.1 1224.8,475.1 1220.8,481.2 C1216.8,487.3 1213.3,492.9 1211.1,499.4 C1208.9,505.9 1206.9,511.2 1207.6,520.0 C1208.3,528.8 1211.4,544.2 1215.1,552.2 C1218.8,560.2 1223.4,563.1 1230.0,568.3 C1236.6,573.5 1246.5,578.7 1254.8,583.2 C1263.1,587.8 1270.3,592.1 1279.6,595.6 C1288.9,599.1 1300.3,603.3 1310.6,604.3 C1320.9,605.3 1331.4,602.4 1341.6,601.8 C1351.8,601.2 1363.8,598.9 1372.0,600.5 C1380.2,602.1 1384.4,607.8 1390.6,611.7 C1396.8,615.6 1399.9,620.6 1409.2,624.1 C1418.5,627.6 1436.1,630.3 1446.4,632.8 C1456.7,635.3 1462.9,635.9 1471.2,639.0 C1479.5,642.1 1489.8,647.4 1496.0,651.4 C1502.2,655.4 1506.3,661.1 1508.4,663.0 L1560,665 L1560,400 Z" fill="none" stroke="#4a4a4a" stroke-width="12" opacity="0.45" filter="url(#bl2)"/><path d="M1552.0,403.6 C1551.7,403.6 1556.1,404.1 1550.4,403.5 C1544.7,402.9 1527.1,401.2 1517.6,399.8 C1508.1,398.4 1502.5,396.7 1493.4,395.0 C1484.3,393.3 1475.2,389.5 1463.0,389.5 C1450.8,389.5 1434.5,392.9 1420.5,395.0 C1406.5,397.1 1393.7,399.3 1379.0,402.3 C1364.3,405.3 1346.3,410.2 1332.5,413.2 C1318.7,416.2 1306.2,417.3 1296.1,420.5 C1286.0,423.7 1278.9,427.6 1271.8,432.6 C1264.7,437.7 1259.7,445.7 1253.6,450.8 C1247.5,455.9 1240.9,457.9 1235.4,463.0 C1229.9,468.1 1224.8,475.1 1220.8,481.2 C1216.8,487.3 1213.3,492.9 1211.1,499.4 C1208.9,505.9 1206.9,511.2 1207.6,520.0 C1208.3,528.8 1211.4,544.2 1215.1,552.2 C1218.8,560.2 1223.4,563.1 1230.0,568.3 C1236.6,573.5 1246.5,578.7 1254.8,583.2 C1263.1,587.8 1270.3,592.1 1279.6,595.6 C1288.9,599.1 1300.3,603.3 1310.6,604.3 C1320.9,605.3 1331.4,602.4 1341.6,601.8 C1351.8,601.2 1363.8,598.9 1372.0,600.5 C1380.2,602.1 1384.4,607.8 1390.6,611.7 C1396.8,615.6 1399.9,620.6 1409.2,624.1 C1418.5,627.6 1436.1,630.3 1446.4,632.8 C1456.7,635.3 1462.9,635.9 1471.2,639.0 C1479.5,642.1 1489.8,647.4 1496.0,651.4 C1502.2,655.4 1506.3,661.1 1508.4,663.0 L1560,665 L1560,400 Z" fill="none" stroke="#d0d0d0" stroke-width="22" opacity="0.18" filter="url(#bl3)"/></g><path d="M1552.0,403.6 C1551.7,403.6 1556.1,404.1 1550.4,403.5 C1544.7,402.9 1527.1,401.2 1517.6,399.8 C1508.1,398.4 1502.5,396.7 1493.4,395.0 C1484.3,393.3 1475.2,389.5 1463.0,389.5 C1450.8,389.5 1434.5,392.9 1420.5,395.0 C1406.5,397.1 1393.7,399.3 1379.0,402.3 C1364.3,405.3 1346.3,410.2 1332.5,413.2 C1318.7,416.2 1306.2,417.3 1296.1,420.5 C1286.0,423.7 1278.9,427.6 1271.8,432.6 C1264.7,437.7 1259.7,445.7 1253.6,450.8 C1247.5,455.9 1240.9,457.9 1235.4,463.0 C1229.9,468.1 1224.8,475.1 1220.8,481.2 C1216.8,487.3 1213.3,492.9 1211.1,499.4 C1208.9,505.9 1206.9,511.2 1207.6,520.0 C1208.3,528.8 1211.4,544.2 1215.1,552.2 C1218.8,560.2 1223.4,563.1 1230.0,568.3 C1236.6,573.5 1246.5,578.7 1254.8,583.2 C1263.1,587.8 1270.3,592.1 1279.6,595.6 C1288.9,599.1 1300.3,603.3 1310.6,604.3 C1320.9,605.3 1331.4,602.4 1341.6,601.8 C1351.8,601.2 1363.8,598.9 1372.0,600.5 C1380.2,602.1 1384.4,607.8 1390.6,611.7 C1396.8,615.6 1399.9,620.6 1409.2,624.1 C1418.5,627.6 1436.1,630.3 1446.4,632.8 C1456.7,635.3 1462.9,635.9 1471.2,639.0 C1479.5,642.1 1489.8,647.4 1496.0,651.4 C1502.2,655.4 1506.3,661.1 1508.4,663.0 L1560,665 L1560,400 Z" fill="none" stroke="#333" stroke-width="1.8" filter="url(#bl05)"/><path d="M1300,440 C1360,420 1440,410 1520,410 L1552,412 L1552,470 C1500,480 1450,470 1400,462 C1350,458 1320,460 1300,440 Z" fill="#b0b0b0" opacity="0.5" filter="url(#bl6)"/><path d="M1372.0,602.0 C1373.3,594.5 1386.7,574.0 1398.0,565.0 C1409.3,556.0 1431.2,548.8 1440.0,548.0 C1448.8,547.2 1448.7,553.8 1451.0,560.0 C1453.3,566.2 1451.7,576.0 1454.0,585.0 C1456.3,594.0 1462.2,605.3 1465.0,614.0 C1467.8,622.7 1474.2,634.3 1471.0,637.0 C1467.8,639.7 1456.3,632.5 1446.0,630.0 C1435.7,627.5 1418.3,625.3 1409.0,622.0 C1399.7,618.7 1396.2,613.3 1390.0,610.0 C1383.8,606.7 1370.7,609.5 1372.0,602.0 Z" fill="#c0c0c0" opacity="0.65" filter="url(#bl2)"/><path d="M1477.0,516.0 C1471.0,521.8 1463.3,528.0 1459.0,535.0 C1454.7,542.0 1451.8,550.0 1451.0,558.0 C1450.2,566.0 1451.7,573.7 1454.0,583.0 C1456.3,592.3 1460.0,604.7 1465.0,614.0 C1470.0,623.3 1477.8,630.8 1484.0,639.0 C1490.2,647.2 1490.0,659.0 1502.0,663.0 C1514.0,667.0 1547.0,693.2 1556.0,663.0 C1565.0,632.8 1561.3,511.7 1556.0,482.0 C1550.7,452.3 1534.2,482.0 1524.0,485.0 C1513.8,488.0 1502.8,494.8 1495.0,500.0 C1487.2,505.2 1483.0,510.2 1477.0,516.0 Z" fill="#2e2e2e" filter="url(#bl3)"/><ellipse cx="1514" cy="592" rx="44" ry="62" fill="#8c8c8c" filter="url(#bl8)"/><ellipse cx="1525" cy="560" rx="26" ry="20" fill="#8f8f8f" filter="url(#bl8)"/><circle cx="1307.5" cy="530.4" r="65" fill="#4a4a4a" opacity="0.75" filter="url(#bl6)"/><circle cx="1307.5" cy="530.4" r="56.5" fill="#221e1f" filter="url(#bl2)"/><ellipse cx="1420" cy="484" rx="28" ry="30" fill="#b8b8b8" opacity="0.5" filter="url(#bl3)"/><ellipse cx="1418" cy="484" rx="32" ry="34" fill="none" stroke="#505050" stroke-width="4" opacity="0.55" filter="url(#bl2)"/><ellipse cx="1419" cy="491.5" rx="8.5" ry="10.5" fill="#2a2a2a" filter="url(#bl1)"/><circle cx="1403.6" cy="504.2" r="6" fill="#2e2e2e" filter="url(#bl1)"/></g>
<rect x="1584.2" y="378.9" width="29.1" height="281" fill="#fff" stroke="#000" stroke-width="2"/>
<text transform="translate(1605.5,518.5) rotate(-90)" font-size="21" text-anchor="middle">LOF</text>
<clipPath id="cpL"><rect x="1619.8" y="378.2" width="350.8" height="281.5"/></clipPath><g clip-path="url(#cpL)"><rect x="1619.8" y="378.2" width="350.8" height="281.5" fill="url(#bgL)"/><g filter="url(#bl6)"><ellipse cx="1628" cy="485" rx="18" ry="30" fill="#a8a8a8"/><path d="M1625,600 C1650,605 1680,615 1700,640 L1690,645 C1670,625 1650,615 1625,612 Z" fill="#bdbdbd"/><ellipse cx="1955" cy="392" rx="9" ry="16" fill="#6a6a6a"/></g><clipPath id="hc3"><path d="M1972.0,420.8 C1971.7,420.8 1974.1,421.2 1970.4,420.5 C1966.7,419.8 1957.3,418.8 1949.8,416.8 C1942.3,414.8 1935.6,412.1 1925.5,408.3 C1915.4,404.5 1901.2,397.0 1889.1,393.8 C1877.0,390.6 1867.7,389.1 1852.7,388.9 C1837.7,388.7 1813.7,391.2 1799.0,392.6 C1784.3,394.0 1776.4,394.8 1764.6,397.4 C1752.8,400.0 1740.3,404.6 1728.2,408.3 C1716.1,412.0 1700.9,414.6 1691.8,419.3 C1682.7,424.0 1678.6,430.2 1673.6,436.3 C1668.5,442.4 1665.5,450.6 1661.5,455.7 C1657.5,460.8 1653.3,461.4 1649.3,466.6 C1645.2,471.9 1640.4,478.3 1637.2,487.2 C1634.0,496.1 1630.9,511.2 1629.9,520.0 C1628.9,528.8 1629.1,533.8 1631.4,539.8 C1633.7,545.8 1638.6,551.1 1643.8,555.9 C1649.0,560.6 1656.2,564.4 1662.4,568.3 C1668.6,572.2 1673.8,576.2 1681.0,579.5 C1688.2,582.8 1697.5,586.0 1705.8,588.1 C1714.1,590.2 1722.3,590.5 1730.6,591.9 C1738.9,593.3 1747.1,596.4 1755.4,596.8 C1763.7,597.2 1774.1,594.5 1780.2,594.3 C1786.3,594.1 1788.0,592.7 1792.0,595.6 C1796.0,598.5 1799.2,606.1 1804.4,611.7 C1809.6,617.3 1815.8,625.1 1823.0,629.0 C1830.2,632.9 1841.6,633.1 1847.8,635.2 C1854.0,637.3 1855.0,638.1 1860.2,641.4 C1865.4,644.7 1874.7,651.5 1878.8,655.1 C1882.9,658.7 1884.0,661.7 1885.0,663.0 L1980,665 L1980,418 Z"/></clipPath><path d="M1972.0,420.8 C1971.7,420.8 1974.1,421.2 1970.4,420.5 C1966.7,419.8 1957.3,418.8 1949.8,416.8 C1942.3,414.8 1935.6,412.1 1925.5,408.3 C1915.4,404.5 1901.2,397.0 1889.1,393.8 C1877.0,390.6 1867.7,389.1 1852.7,388.9 C1837.7,388.7 1813.7,391.2 1799.0,392.6 C1784.3,394.0 1776.4,394.8 1764.6,397.4 C1752.8,400.0 1740.3,404.6 1728.2,408.3 C1716.1,412.0 1700.9,414.6 1691.8,419.3 C1682.7,424.0 1678.6,430.2 1673.6,436.3 C1668.5,442.4 1665.5,450.6 1661.5,455.7 C1657.5,460.8 1653.3,461.4 1649.3,466.6 C1645.2,471.9 1640.4,478.3 1637.2,487.2 C1634.0,496.1 1630.9,511.2 1629.9,520.0 C1628.9,528.8 1629.1,533.8 1631.4,539.8 C1633.7,545.8 1638.6,551.1 1643.8,555.9 C1649.0,560.6 1656.2,564.4 1662.4,568.3 C1668.6,572.2 1673.8,576.2 1681.0,579.5 C1688.2,582.8 1697.5,586.0 1705.8,588.1 C1714.1,590.2 1722.3,590.5 1730.6,591.9 C1738.9,593.3 1747.1,596.4 1755.4,596.8 C1763.7,597.2 1774.1,594.5 1780.2,594.3 C1786.3,594.1 1788.0,592.7 1792.0,595.6 C1796.0,598.5 1799.2,606.1 1804.4,611.7 C1809.6,617.3 1815.8,625.1 1823.0,629.0 C1830.2,632.9 1841.6,633.1 1847.8,635.2 C1854.0,637.3 1855.0,638.1 1860.2,641.4 C1865.4,644.7 1874.7,651.5 1878.8,655.1 C1882.9,658.7 1884.0,661.7 1885.0,663.0 L1980,665 L1980,418 Z" fill="#919191"/><path d="M1972.0,420.8 C1971.7,420.8 1974.1,421.2 1970.4,420.5 C1966.7,419.8 1957.3,418.8 1949.8,416.8 C1942.3,414.8 1935.6,412.1 1925.5,408.3 C1915.4,404.5 1901.2,397.0 1889.1,393.8 C1877.0,390.6 1867.7,389.1 1852.7,388.9 C1837.7,388.7 1813.7,391.2 1799.0,392.6 C1784.3,394.0 1776.4,394.8 1764.6,397.4 C1752.8,400.0 1740.3,404.6 1728.2,408.3 C1716.1,412.0 1700.9,414.6 1691.8,419.3 C1682.7,424.0 1678.6,430.2 1673.6,436.3 C1668.5,442.4 1665.5,450.6 1661.5,455.7 C1657.5,460.8 1653.3,461.4 1649.3,466.6 C1645.2,471.9 1640.4,478.3 1637.2,487.2 C1634.0,496.1 1630.9,511.2 1629.9,520.0 C1628.9,528.8 1629.1,533.8 1631.4,539.8 C1633.7,545.8 1638.6,551.1 1643.8,555.9 C1649.0,560.6 1656.2,564.4 1662.4,568.3 C1668.6,572.2 1673.8,576.2 1681.0,579.5 C1688.2,582.8 1697.5,586.0 1705.8,588.1 C1714.1,590.2 1722.3,590.5 1730.6,591.9 C1738.9,593.3 1747.1,596.4 1755.4,596.8 C1763.7,597.2 1774.1,594.5 1780.2,594.3 C1786.3,594.1 1788.0,592.7 1792.0,595.6 C1796.0,598.5 1799.2,606.1 1804.4,611.7 C1809.6,617.3 1815.8,625.1 1823.0,629.0 C1830.2,632.9 1841.6,633.1 1847.8,635.2 C1854.0,637.3 1855.0,638.1 1860.2,641.4 C1865.4,644.7 1874.7,651.5 1878.8,655.1 C1882.9,658.7 1884.0,661.7 1885.0,663.0 L1980,665 L1980,418 Z" fill="#000" filter="url(#tex)" opacity="0.55"/><g clip-path="url(#hc3)"><path d="M1972.0,420.8 C1971.7,420.8 1974.1,421.2 1970.4,420.5 C1966.7,419.8 1957.3,418.8 1949.8,416.8 C1942.3,414.8 1935.6,412.1 1925.5,408.3 C1915.4,404.5 1901.2,397.0 1889.1,393.8 C1877.0,390.6 1867.7,389.1 1852.7,388.9 C1837.7,388.7 1813.7,391.2 1799.0,392.6 C1784.3,394.0 1776.4,394.8 1764.6,397.4 C1752.8,400.0 1740.3,404.6 1728.2,408.3 C1716.1,412.0 1700.9,414.6 1691.8,419.3 C1682.7,424.0 1678.6,430.2 1673.6,436.3 C1668.5,442.4 1665.5,450.6 1661.5,455.7 C1657.5,460.8 1653.3,461.4 1649.3,466.6 C1645.2,471.9 1640.4,478.3 1637.2,487.2 C1634.0,496.1 1630.9,511.2 1629.9,520.0 C1628.9,528.8 1629.1,533.8 1631.4,539.8 C1633.7,545.8 1638.6,551.1 1643.8,555.9 C1649.0,560.6 1656.2,564.4 1662.4,568.3 C1668.6,572.2 1673.8,576.2 1681.0,579.5 C1688.2,582.8 1697.5,586.0 1705.8,588.1 C1714.1,590.2 1722.3,590.5 1730.6,591.9 C1738.9,593.3 1747.1,596.4 1755.4,596.8 C1763.7,597.2 1774.1,594.5 1780.2,594.3 C1786.3,594.1 1788.0,592.7 1792.0,595.6 C1796.0,598.5 1799.2,606.1 1804.4,611.7 C1809.6,617.3 1815.8,625.1 1823.0,629.0 C1830.2,632.9 1841.6,633.1 1847.8,635.2 C1854.0,637.3 1855.0,638.1 1860.2,641.4 C1865.4,644.7 1874.7,651.5 1878.8,655.1 C1882.9,658.7 1884.0,661.7 1885.0,663.0 L1980,665 L1980,418 Z" fill="none" stroke="#4a4a4a" stroke-width="12" opacity="0.45" filter="url(#bl2)"/><path d="M1972.0,420.8 C1971.7,420.8 1974.1,421.2 1970.4,420.5 C1966.7,419.8 1957.3,418.8 1949.8,416.8 C1942.3,414.8 1935.6,412.1 1925.5,408.3 C1915.4,404.5 1901.2,397.0 1889.1,393.8 C1877.0,390.6 1867.7,389.1 1852.7,388.9 C1837.7,388.7 1813.7,391.2 1799.0,392.6 C1784.3,394.0 1776.4,394.8 1764.6,397.4 C1752.8,400.0 1740.3,404.6 1728.2,408.3 C1716.1,412.0 1700.9,414.6 1691.8,419.3 C1682.7,424.0 1678.6,430.2 1673.6,436.3 C1668.5,442.4 1665.5,450.6 1661.5,455.7 C1657.5,460.8 1653.3,461.4 1649.3,466.6 C1645.2,471.9 1640.4,478.3 1637.2,487.2 C1634.0,496.1 1630.9,511.2 1629.9,520.0 C1628.9,528.8 1629.1,533.8 1631.4,539.8 C1633.7,545.8 1638.6,551.1 1643.8,555.9 C1649.0,560.6 1656.2,564.4 1662.4,568.3 C1668.6,572.2 1673.8,576.2 1681.0,579.5 C1688.2,582.8 1697.5,586.0 1705.8,588.1 C1714.1,590.2 1722.3,590.5 1730.6,591.9 C1738.9,593.3 1747.1,596.4 1755.4,596.8 C1763.7,597.2 1774.1,594.5 1780.2,594.3 C1786.3,594.1 1788.0,592.7 1792.0,595.6 C1796.0,598.5 1799.2,606.1 1804.4,611.7 C1809.6,617.3 1815.8,625.1 1823.0,629.0 C1830.2,632.9 1841.6,633.1 1847.8,635.2 C1854.0,637.3 1855.0,638.1 1860.2,641.4 C1865.4,644.7 1874.7,651.5 1878.8,655.1 C1882.9,658.7 1884.0,661.7 1885.0,663.0 L1980,665 L1980,418 Z" fill="none" stroke="#d0d0d0" stroke-width="22" opacity="0.18" filter="url(#bl3)"/></g><path d="M1972.0,420.8 C1971.7,420.8 1974.1,421.2 1970.4,420.5 C1966.7,419.8 1957.3,418.8 1949.8,416.8 C1942.3,414.8 1935.6,412.1 1925.5,408.3 C1915.4,404.5 1901.2,397.0 1889.1,393.8 C1877.0,390.6 1867.7,389.1 1852.7,388.9 C1837.7,388.7 1813.7,391.2 1799.0,392.6 C1784.3,394.0 1776.4,394.8 1764.6,397.4 C1752.8,400.0 1740.3,404.6 1728.2,408.3 C1716.1,412.0 1700.9,414.6 1691.8,419.3 C1682.7,424.0 1678.6,430.2 1673.6,436.3 C1668.5,442.4 1665.5,450.6 1661.5,455.7 C1657.5,460.8 1653.3,461.4 1649.3,466.6 C1645.2,471.9 1640.4,478.3 1637.2,487.2 C1634.0,496.1 1630.9,511.2 1629.9,520.0 C1628.9,528.8 1629.1,533.8 1631.4,539.8 C1633.7,545.8 1638.6,551.1 1643.8,555.9 C1649.0,560.6 1656.2,564.4 1662.4,568.3 C1668.6,572.2 1673.8,576.2 1681.0,579.5 C1688.2,582.8 1697.5,586.0 1705.8,588.1 C1714.1,590.2 1722.3,590.5 1730.6,591.9 C1738.9,593.3 1747.1,596.4 1755.4,596.8 C1763.7,597.2 1774.1,594.5 1780.2,594.3 C1786.3,594.1 1788.0,592.7 1792.0,595.6 C1796.0,598.5 1799.2,606.1 1804.4,611.7 C1809.6,617.3 1815.8,625.1 1823.0,629.0 C1830.2,632.9 1841.6,633.1 1847.8,635.2 C1854.0,637.3 1855.0,638.1 1860.2,641.4 C1865.4,644.7 1874.7,651.5 1878.8,655.1 C1882.9,658.7 1884.0,661.7 1885.0,663.0 L1980,665 L1980,418 Z" fill="none" stroke="#333" stroke-width="1.8" filter="url(#bl05)"/><path d="M1738.0,414.0 C1745.5,410.0 1771.3,404.5 1790.0,402.0 C1808.7,399.5 1838.3,398.7 1850.0,399.0 C1861.7,399.3 1863.3,400.8 1860.0,404.0 C1856.7,407.2 1841.7,414.5 1830.0,418.0 C1818.3,421.5 1804.2,423.7 1790.0,425.0 C1775.8,426.3 1753.7,427.8 1745.0,426.0 C1736.3,424.2 1730.5,418.0 1738.0,414.0 Z" fill="#cfcfcf" opacity="0.6" filter="url(#bl2)"/><path d="M1680,440 C1740,425 1820,425 1900,430 L1972,440 L1972,480 C1900,485 1820,470 1760,468 C1720,466 1690,460 1680,440 Z" fill="#aaaaaa" opacity="0.45" filter="url(#bl6)"/><ellipse cx="1822" cy="525" rx="50" ry="44" fill="#555" opacity="0.7" filter="url(#bl8)"/><path d="M1856.0,546.0 C1854.3,556.0 1856.3,565.7 1858.0,577.0 C1859.7,588.3 1861.5,603.7 1866.0,614.0 C1870.5,624.3 1879.2,630.8 1885.0,639.0 C1890.8,647.2 1886.0,659.0 1901.0,663.0 C1916.0,667.0 1962.7,692.0 1975.0,663.0 C1987.3,634.0 1987.5,517.7 1975.0,489.0 C1962.5,460.3 1917.8,486.3 1900.0,491.0 C1882.2,495.7 1875.3,507.8 1868.0,517.0 C1860.7,526.2 1857.7,536.0 1856.0,546.0 Z" fill="#2f2f2f" filter="url(#bl3)"/><ellipse cx="1935" cy="610" rx="58" ry="68" fill="#7a7a7a" filter="url(#bl8)"/><ellipse cx="1940" cy="560" rx="38" ry="14" fill="#8a8a8a" filter="url(#bl6)"/><path d="M1792.0,598.0 C1788.3,587.0 1793.7,568.8 1800.0,560.0 C1806.3,551.2 1821.0,546.3 1830.0,545.0 C1839.0,543.7 1849.3,542.8 1854.0,552.0 C1858.7,561.2 1856.0,587.0 1858.0,600.0 C1860.0,613.0 1867.7,624.3 1866.0,630.0 C1864.3,635.7 1855.3,634.7 1848.0,634.0 C1840.7,633.3 1831.3,632.0 1822.0,626.0 C1812.7,620.0 1795.7,609.0 1792.0,598.0 Z" fill="#7e7e7e" opacity="0.5" filter="url(#bl3)"/><ellipse cx="1833" cy="494" rx="12" ry="11" fill="#3e3e3e" opacity="0.7" filter="url(#bl3)"/><circle cx="1729.5" cy="531" r="66" fill="#4a4a4a" opacity="0.75" filter="url(#bl6)"/><circle cx="1729.5" cy="531" r="57.5" fill="#221e1f" filter="url(#bl3)"/></g>
<text x="-2" y="706" font-size="42" font-weight="bold">c</text>
<line x1="102" y1="1036.5" x2="1997" y2="1036.5" stroke="#dedede" stroke-width="2.2"/>
<text x="92.5" y="1043.9" font-size="20.5" text-anchor="end">0</text>
<line x1="102" y1="988.9" x2="1997" y2="988.9" stroke="#dedede" stroke-width="2.2"/>
<text x="92.5" y="996.3" font-size="20.5" text-anchor="end">50</text>
<line x1="102" y1="941.4" x2="1997" y2="941.4" stroke="#dedede" stroke-width="2.2"/>
<text x="92.5" y="948.8" font-size="20.5" text-anchor="end">100</text>
<line x1="102" y1="893.8" x2="1997" y2="893.8" stroke="#dedede" stroke-width="2.2"/>
<text x="92.5" y="901.2" font-size="20.5" text-anchor="end">150</text>
<line x1="102" y1="846.2" x2="1997" y2="846.2" stroke="#dedede" stroke-width="2.2"/>
<text x="92.5" y="853.6" font-size="20.5" text-anchor="end">200</text>
<line x1="102" y1="798.6" x2="1997" y2="798.6" stroke="#dedede" stroke-width="2.2"/>
<text x="92.5" y="806.0" font-size="20.5" text-anchor="end">250</text>
<line x1="102" y1="751.1" x2="1997" y2="751.1" stroke="#dedede" stroke-width="2.2"/>
<text x="92.5" y="758.5" font-size="20.5" text-anchor="end">300</text>
<line x1="102" y1="703.5" x2="1997" y2="703.5" stroke="#dedede" stroke-width="2.2"/>
<text x="92.5" y="710.9" font-size="20.5" text-anchor="end">350</text>
<text transform="translate(14.2,869.8) rotate(-90)" font-size="20.9" text-anchor="middle">Relative % change in area</text>
<text transform="translate(40.5,870) rotate(-90)" font-size="20.6" text-anchor="middle">of ventricles</text>
<rect x="115.9" y="941.8" width="18.6" height="95.2" fill="#8e8e8e"/>
<path d="M125.2,938.2 L125.2,944.4 M124.2,938.2 L126.2,938.2 M124.2,944.4 L126.2,944.4" stroke="#777" stroke-width="1"/>
<text transform="translate(132.6,1047.8) rotate(-90)" font-size="20.9" text-anchor="end">Control</text>
<rect x="162.1" y="777.7" width="18.6" height="259.3" fill="#ee2a23"/>
<path d="M171.4,760.5 L171.4,794.4 M170.4,760.5 L172.4,760.5 M170.4,794.4 L172.4,794.4" stroke="#777" stroke-width="1"/>
<text transform="translate(178.8,1047.8) rotate(-90)" font-size="20.9" text-anchor="end">MO</text>
<rect x="208.3" y="885.1" width="18.6" height="151.9" fill="#95c13e"/>
<path d="M217.6,876.7 L217.6,893.8 M216.6,876.7 L218.6,876.7 M216.6,893.8 L218.6,893.8" stroke="#777" stroke-width="1"/>
<text transform="translate(225.0,1047.8) rotate(-90)" font-size="20.9" text-anchor="end">MO+WT</text>
<rect x="254.5" y="806.7" width="18.6" height="230.3" fill="#ee2a23"/>
<path d="M263.8,793.1 L263.8,819.5 M262.8,793.1 L264.8,793.1 M262.8,819.5 L264.8,819.5" stroke="#777" stroke-width="1"/>
<text transform="translate(271.2,1047.8) rotate(-90)" font-size="20.9" text-anchor="end">MO+G6D</text>
<rect x="300.7" y="838" width="18.6" height="199.0" fill="#f08431"/>
<path d="M310.0,826.2 L310.0,849 M309.0,826.2 L311.0,826.2 M309.0,849 L311.0,849" stroke="#777" stroke-width="1"/>
<text transform="translate(317.4,1047.8) rotate(-90)" font-size="20.9" text-anchor="end">M0+E23D</text>
<rect x="347.0" y="793.1" width="18.6" height="243.9" fill="#ee2a23"/>
<path d="M356.3,779.2 L356.3,807.2 M355.3,779.2 L357.3,779.2 M355.3,807.2 L357.3,807.2" stroke="#777" stroke-width="1"/>
<text transform="translate(363.7,1047.8) rotate(-90)" font-size="20.9" text-anchor="end">MO+T77A</text>
<rect x="393.2" y="866.9" width="18.6" height="170.1" fill="#99d44e"/>
<path d="M402.5,857.2 L402.5,875.9 M401.5,857.2 L403.5,857.2 M401.5,875.9 L403.5,875.9" stroke="#777" stroke-width="1"/>
<text transform="translate(409.9,1047.8) rotate(-90)" font-size="20.9" text-anchor="end">MO+M146V</text>
<rect x="439.4" y="847.7" width="18.6" height="189.3" fill="#f08431"/>
<path d="M448.7,834.6 L448.7,859.7 M447.7,834.6 L449.7,834.6 M447.7,859.7 L449.7,859.7" stroke="#777" stroke-width="1"/>
<text transform="translate(456.1,1047.8) rotate(-90)" font-size="20.9" text-anchor="end">MO+A156V</text>
<rect x="485.6" y="800.8" width="18.6" height="236.2" fill="#ee2a23"/>
<path d="M494.9,789.2 L494.9,813.1 M493.9,789.2 L495.9,789.2 M493.9,813.1 L495.9,813.1" stroke="#777" stroke-width="1"/>
<text transform="translate(502.3,1047.8) rotate(-90)" font-size="20.9" text-anchor="end">MO+M200T</text>
<rect x="531.8" y="843.1" width="18.6" height="193.9" fill="#f08431"/>
<path d="M541.1,832.3 L541.1,853.6 M540.1,832.3 L542.1,832.3 M540.1,853.6 L542.1,853.6" stroke="#777" stroke-width="1"/>
<text transform="translate(548.5,1047.8) rotate(-90)" font-size="20.9" text-anchor="end">MO+M200I</text>
<rect x="578.0" y="835.1" width="18.6" height="201.9" fill="#f08431"/>
<path d="M587.3,822.3 L587.3,847.7 M586.3,822.3 L588.3,822.3 M586.3,847.7 L588.3,847.7" stroke="#777" stroke-width="1"/>
<text transform="translate(594.7,1047.8) rotate(-90)" font-size="20.9" text-anchor="end">MO+D214G</text>
<rect x="624.2" y="815.1" width="18.6" height="221.9" fill="#ee2a23"/>
<path d="M633.5,799.2 L633.5,831 M632.5,799.2 L634.5,799.2 M632.5,831 L634.5,831" stroke="#777" stroke-width="1"/>
<text transform="translate(640.9,1047.8) rotate(-90)" font-size="20.9" text-anchor="end">MO+E248Q</text>
<rect x="670.4" y="829.2" width="18.6" height="207.8" fill="#f08431"/>
<path d="M679.7,817.7 L679.7,840.8 M678.7,817.7 L680.7,817.7 M678.7,840.8 L680.7,840.8" stroke="#777" stroke-width="1"/>
<text transform="translate(687.1,1047.8) rotate(-90)" font-size="20.9" text-anchor="end">MO+E311Q</text>
<rect x="716.6" y="811.8" width="18.6" height="225.2" fill="#ee2a23"/>
<path d="M725.9,802.1 L725.9,820.8 M724.9,802.1 L726.9,802.1 M724.9,820.8 L726.9,820.8" stroke="#777" stroke-width="1"/>
<text transform="translate(733.3,1047.8) rotate(-90)" font-size="20.9" text-anchor="end">MO+E369G</text>
<rect x="762.8" y="800.3" width="18.6" height="236.7" fill="#ee2a23"/>
<path d="M772.1,786.4 L772.1,813.8 M771.1,786.4 L773.1,786.4 M771.1,813.8 L773.1,813.8" stroke="#777" stroke-width="1"/>
<text transform="translate(779.5,1047.8) rotate(-90)" font-size="20.9" text-anchor="end">MO+P390S</text>
<rect x="809.0" y="844.1" width="18.6" height="192.9" fill="#f08431"/>
<path d="M818.3,834.6 L818.3,853.6 M817.3,834.6 L819.3,834.6 M817.3,853.6 L819.3,853.6" stroke="#777" stroke-width="1"/>
<text transform="translate(825.7,1047.8) rotate(-90)" font-size="20.9" text-anchor="end">MO+L472V</text>
<rect x="855.3" y="853.6" width="18.6" height="183.4" fill="#f08431"/>
<path d="M864.6,840.3 L864.6,866.7 M863.6,840.3 L865.6,840.3 M863.6,866.7 L865.6,866.7" stroke="#777" stroke-width="1"/>
<text transform="translate(872.0,1047.8) rotate(-90)" font-size="20.9" text-anchor="end">MO+G482V</text>
<rect x="901.5" y="879.2" width="18.6" height="157.8" fill="#99d44e"/>
<path d="M910.8,871.3 L910.8,887.7 M909.8,871.3 L911.8,871.3 M909.8,887.7 L911.8,887.7" stroke="#777" stroke-width="1"/>
<text transform="translate(918.2,1047.8) rotate(-90)" font-size="20.9" text-anchor="end">MO+E543K</text>
<rect x="947.7" y="840.3" width="18.6" height="196.7" fill="#f08431"/>
<path d="M957.0,826.4 L957.0,853.6 M956.0,826.4 L958.0,826.4 M956.0,853.6 L958.0,853.6" stroke="#777" stroke-width="1"/>
<text transform="translate(964.4,1047.8) rotate(-90)" font-size="20.9" text-anchor="end">MO+D574G</text>
<rect x="993.9" y="878" width="18.6" height="159.0" fill="#99d44e"/>
<path d="M1003.2,868.2 L1003.2,888.2 M1002.2,868.2 L1004.2,868.2 M1002.2,888.2 L1004.2,888.2" stroke="#777" stroke-width="1"/>
<text transform="translate(1010.6,1047.8) rotate(-90)" font-size="20.9" text-anchor="end">MO+R604L</text>
<rect x="1040.1" y="877.7" width="18.6" height="159.3" fill="#99d44e"/>
<path d="M1049.4,865.1 L1049.4,889 M1048.4,865.1 L1050.4,865.1 M1048.4,889 L1050.4,889" stroke="#777" stroke-width="1"/>
<text transform="translate(1056.8,1047.8) rotate(-90)" font-size="20.9" text-anchor="end">MO+E624K</text>
<rect x="1086.3" y="889.2" width="18.6" height="147.8" fill="#99d44e"/>
<path d="M1095.6,876.2 L1095.6,899.7 M1094.6,876.2 L1096.6,876.2 M1094.6,899.7 L1096.6,899.7" stroke="#777" stroke-width="1"/>
<text transform="translate(1103.0,1047.8) rotate(-90)" font-size="20.9" text-anchor="end">MO+I659M</text>
<rect x="1132.5" y="896.9" width="18.6" height="140.1" fill="#99d44e"/>
<path d="M1141.8,886.7 L1141.8,907.2 M1140.8,886.7 L1142.8,886.7 M1140.8,907.2 L1142.8,907.2" stroke="#777" stroke-width="1"/>
<text transform="translate(1149.2,1047.8) rotate(-90)" font-size="20.9" text-anchor="end">MO+S804R</text>
<rect x="1178.7" y="866.2" width="18.6" height="170.8" fill="#99d44e"/>
<path d="M1188.0,858.2 L1188.0,876.7 M1187.0,858.2 L1189.0,858.2 M1187.0,876.7 L1189.0,876.7" stroke="#777" stroke-width="1"/>
<text transform="translate(1195.4,1047.8) rotate(-90)" font-size="20.9" text-anchor="end">MO+R833T</text>
<rect x="1224.9" y="870.8" width="18.6" height="166.2" fill="#99d44e"/>
<path d="M1234.2,861.8 L1234.2,879.7 M1233.2,861.8 L1235.2,861.8 M1233.2,879.7 L1235.2,879.7" stroke="#777" stroke-width="1"/>
<text transform="translate(1241.6,1047.8) rotate(-90)" font-size="20.9" text-anchor="end">MO+C876R</text>
<rect x="1271.2" y="812.1" width="18.6" height="224.9" fill="#ee2a23"/>
<path d="M1280.5,797.7 L1280.5,826.4 M1279.5,797.7 L1281.5,797.7 M1279.5,826.4 L1281.5,826.4" stroke="#777" stroke-width="1"/>
<text transform="translate(1287.9,1047.8) rotate(-90)" font-size="20.9" text-anchor="end">MO+G892W</text>
<rect x="1317.4" y="806.9" width="18.6" height="230.1" fill="#ee2a23"/>
<path d="M1326.7,794.1 L1326.7,819.7 M1325.7,794.1 L1327.7,794.1 M1325.7,819.7 L1327.7,819.7" stroke="#777" stroke-width="1"/>
<text transform="translate(1334.1,1047.8) rotate(-90)" font-size="20.9" text-anchor="end">MO+E917G</text>
<rect x="1363.6" y="884.1" width="18.6" height="152.9" fill="#99d44e"/>
<path d="M1372.9,875.1 L1372.9,892.1 M1371.9,875.1 L1373.9,875.1 M1371.9,892.1 L1373.9,892.1" stroke="#777" stroke-width="1"/>
<text transform="translate(1380.3,1047.8) rotate(-90)" font-size="20.9" text-anchor="end">MO+K954N</text>
<rect x="1409.8" y="870.3" width="18.6" height="166.7" fill="#99d44e"/>
<path d="M1419.1,863.3 L1419.1,880.5 M1418.1,863.3 L1420.1,863.3 M1418.1,880.5 L1420.1,880.5" stroke="#777" stroke-width="1"/>
<text transform="translate(1426.5,1047.8) rotate(-90)" font-size="20.9" text-anchor="end">MO+N1125S</text>
<rect x="1456.0" y="868.2" width="18.6" height="168.8" fill="#99d44e"/>
<path d="M1465.3,859.2 L1465.3,877.7 M1464.3,859.2 L1466.3,859.2 M1464.3,877.7 L1466.3,877.7" stroke="#777" stroke-width="1"/>
<text transform="translate(1472.7,1047.8) rotate(-90)" font-size="20.9" text-anchor="end">MO+K1275E</text>
<rect x="1502.2" y="842.6" width="18.6" height="194.4" fill="#f08431"/>
<path d="M1511.5,829.7 L1511.5,855.4 M1510.5,829.7 L1512.5,829.7 M1510.5,855.4 L1512.5,855.4" stroke="#777" stroke-width="1"/>
<text transform="translate(1518.9,1047.8) rotate(-90)" font-size="20.9" text-anchor="end">MO+H1352L</text>
<rect x="1548.4" y="872.8" width="18.6" height="164.2" fill="#99d44e"/>
<path d="M1557.7,857.2 L1557.7,888.2 M1556.7,857.2 L1558.7,857.2 M1556.7,888.2 L1558.7,888.2" stroke="#777" stroke-width="1"/>
<text transform="translate(1565.1,1047.8) rotate(-90)" font-size="20.9" text-anchor="end">MO+C1361Y</text>
<rect x="1594.6" y="875.2" width="18.6" height="161.8" fill="#99d44e"/>
<path d="M1603.9,866.2 L1603.9,883.6 M1602.9,866.2 L1604.9,866.2 M1602.9,883.6 L1604.9,883.6" stroke="#777" stroke-width="1"/>
<text transform="translate(1611.3,1047.8) rotate(-90)" font-size="20.9" text-anchor="end">MO+A1490G</text>
<rect x="1640.8" y="893.4" width="18.6" height="143.6" fill="#99d44e"/>
<path d="M1650.1,887.5 L1650.1,899.5 M1649.1,887.5 L1651.1,887.5 M1649.1,899.5 L1651.1,899.5" stroke="#777" stroke-width="1"/>
<text transform="translate(1657.5,1047.8) rotate(-90)" font-size="20.9" text-anchor="end">MO+E1535K</text>
<rect x="1687.0" y="842.3" width="18.6" height="194.7" fill="#f08431"/>
<path d="M1696.3,831 L1696.3,852.9 M1695.3,831 L1697.3,831 M1695.3,852.9 L1697.3,852.9" stroke="#777" stroke-width="1"/>
<text transform="translate(1703.7,1047.8) rotate(-90)" font-size="20.9" text-anchor="end">MO+A1553G</text>
<rect x="1733.3" y="797.5" width="18.6" height="239.5" fill="#ee2a23"/>
<path d="M1742.6,782.6 L1742.6,811.8 M1741.6,782.6 L1743.6,782.6 M1741.6,811.8 L1743.6,811.8" stroke="#777" stroke-width="1"/>
<text transform="translate(1750.0,1047.8) rotate(-90)" font-size="20.9" text-anchor="end">MO+G1556D</text>
<rect x="1779.5" y="909" width="18.6" height="128.0" fill="#99d44e"/>
<path d="M1788.8,903.1 L1788.8,914.9 M1787.8,903.1 L1789.8,903.1 M1787.8,914.9 L1789.8,914.9" stroke="#777" stroke-width="1"/>
<text transform="translate(1796.2,1047.8) rotate(-90)" font-size="20.9" text-anchor="end">MO+K1861N</text>
<rect x="1825.7" y="811.6" width="18.6" height="225.4" fill="#ee2a23"/>
<path d="M1835.0,800 L1835.0,822.6 M1834.0,800 L1836.0,800 M1834.0,822.6 L1836.0,822.6" stroke="#777" stroke-width="1"/>
<text transform="translate(1842.4,1047.8) rotate(-90)" font-size="20.9" text-anchor="end">MO+N1875K</text>
<rect x="1871.9" y="869.8" width="18.6" height="167.2" fill="#99d44e"/>
<path d="M1881.2,858.2 L1881.2,882.6 M1880.2,858.2 L1882.2,858.2 M1880.2,882.6 L1882.2,882.6" stroke="#777" stroke-width="1"/>
<text transform="translate(1888.6,1047.8) rotate(-90)" font-size="20.9" text-anchor="end">MO+R1907H</text>
<rect x="1918.1" y="789.2" width="18.6" height="247.8" fill="#ee2a23"/>
<path d="M1927.4,772.1 L1927.4,806.7 M1926.4,772.1 L1928.4,772.1 M1926.4,806.7 L1928.4,806.7" stroke="#777" stroke-width="1"/>
<text transform="translate(1934.8,1047.8) rotate(-90)" font-size="20.9" text-anchor="end">MO+P1913L</text>
<rect x="1964.3" y="791.6" width="18.6" height="245.4" fill="#ee2a23"/>
<path d="M1973.6,773.3 L1973.6,809.2 M1972.6,773.3 L1974.6,773.3 M1972.6,809.2 L1974.6,809.2" stroke="#777" stroke-width="1"/>
<text transform="translate(1981.0,1047.8) rotate(-90)" font-size="20.9" text-anchor="end">MO+A1979S</text></svg>
</body></html>
